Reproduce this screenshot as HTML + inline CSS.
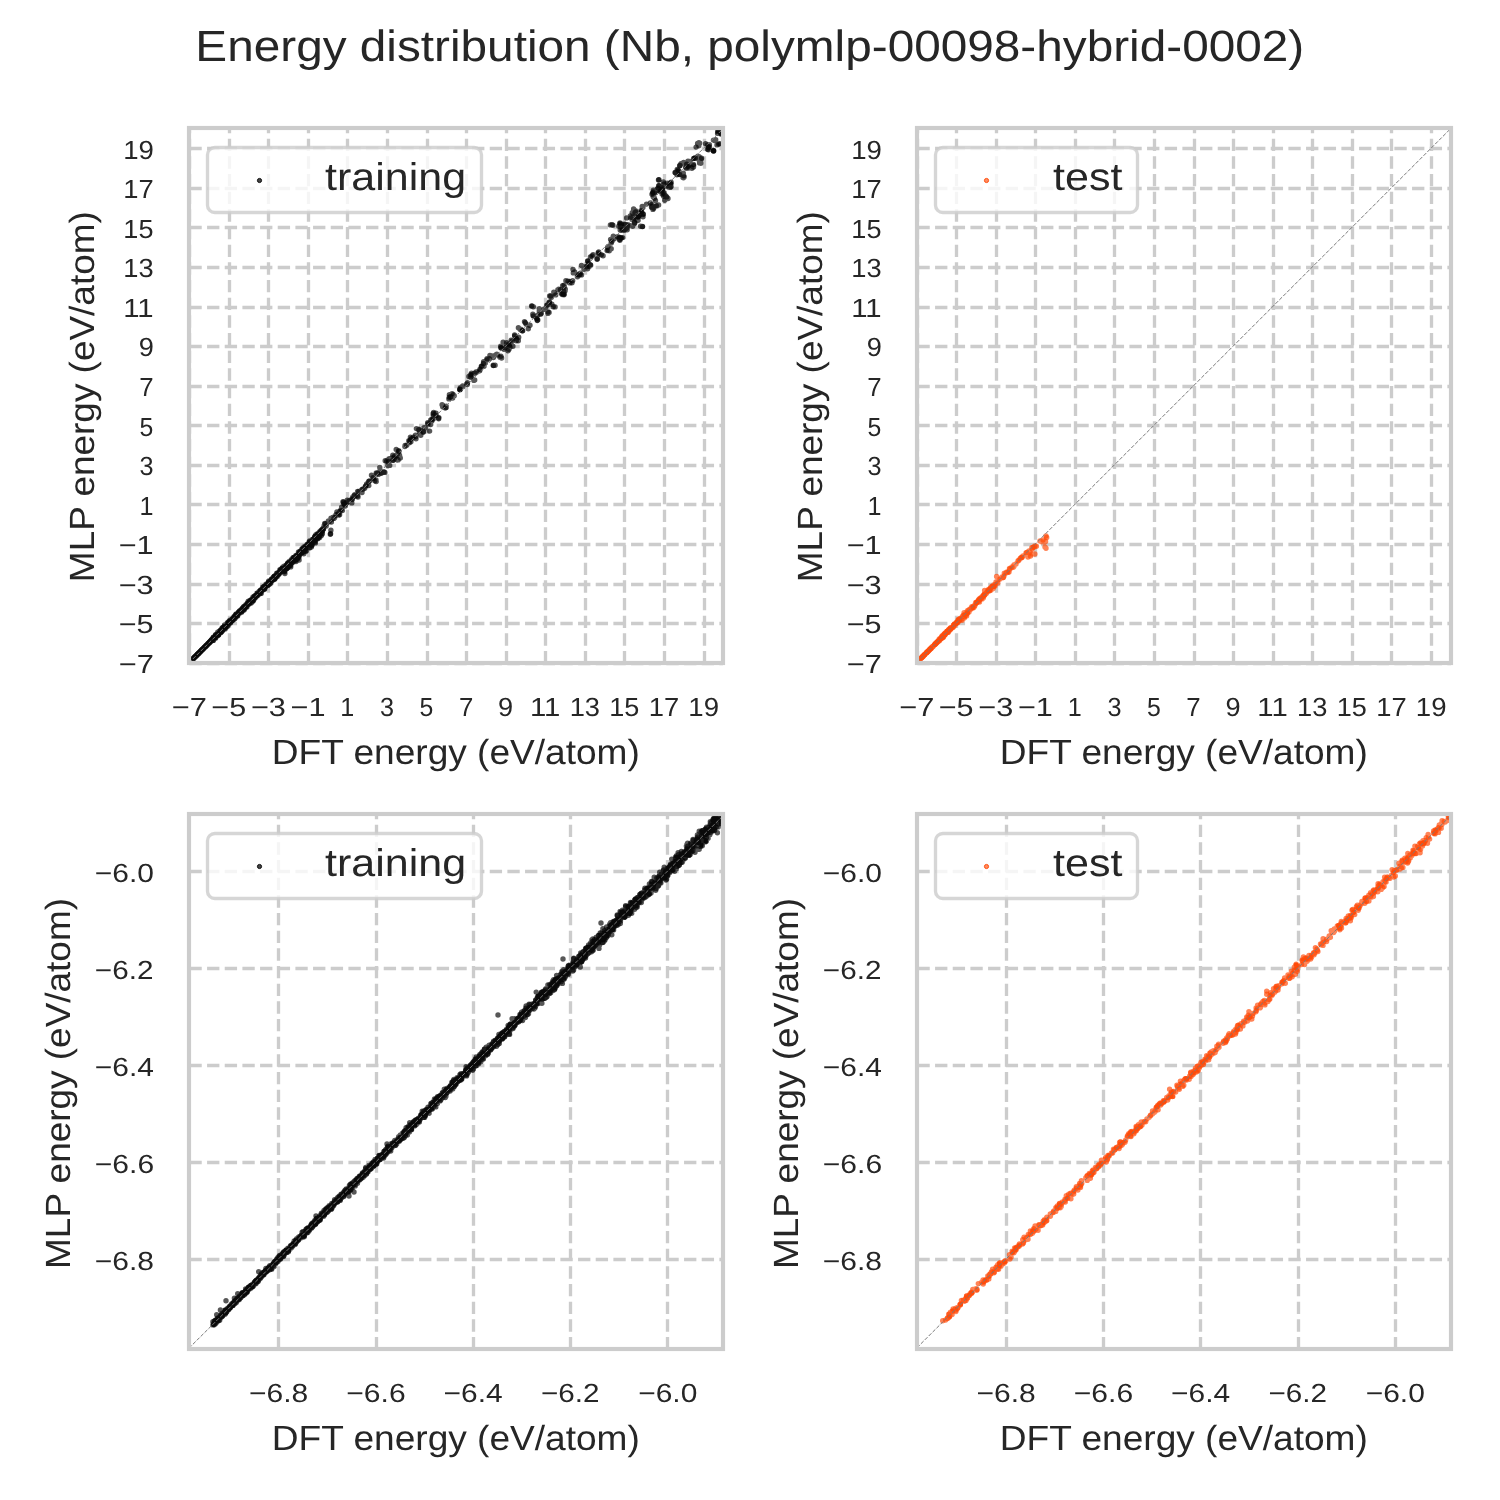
<!DOCTYPE html><html><head><meta charset="utf-8"><title>Energy distribution</title><style>html,body{margin:0;padding:0;background:#fff;width:1500px;height:1500px;overflow:hidden}svg{display:block;will-change:transform}text{text-rendering:geometricPrecision}</style></head><body>
<svg width="1500" height="1500" viewBox="0 0 1500 1500">
<rect width="1500" height="1500" fill="#ffffff"/>
<g font-family="Liberation Sans, sans-serif" fill="#262626">
<text x="195.32" y="60.60" font-size="43.75" textLength="1108.89" lengthAdjust="spacingAndGlyphs">Energy distribution (Nb, polymlp-00098-hybrid-0002)</text>
</g>
<clipPath id="c1"><rect x="189" y="128" width="534" height="535"/></clipPath>
<g stroke="#cccccc" stroke-width="3.333" fill="none" stroke-dasharray="12.333 5.333">
<path d="M189.5 663.30V128.00"/>
<path d="M229.5 663.30V128.00"/>
<path d="M268.5 663.30V128.00"/>
<path d="M308.5 663.30V128.00"/>
<path d="M347.5 663.30V128.00"/>
<path d="M387.5 663.30V128.00"/>
<path d="M427.5 663.30V128.00"/>
<path d="M466.5 663.30V128.00"/>
<path d="M506.5 663.30V128.00"/>
<path d="M545.5 663.30V128.00"/>
<path d="M585.5 663.30V128.00"/>
<path d="M624.5 663.30V128.00"/>
<path d="M664.5 663.30V128.00"/>
<path d="M704.5 663.30V128.00"/>
<path d="M189.40 663.5H723.00"/>
<path d="M189.40 623.5H723.00"/>
<path d="M189.40 584.5H723.00"/>
<path d="M189.40 544.5H723.00"/>
<path d="M189.40 504.5H723.00"/>
<path d="M189.40 465.5H723.00"/>
<path d="M189.40 425.5H723.00"/>
<path d="M189.40 386.5H723.00"/>
<path d="M189.40 346.5H723.00"/>
<path d="M189.40 307.5H723.00"/>
<path d="M189.40 267.5H723.00"/>
<path d="M189.40 227.5H723.00"/>
<path d="M189.40 188.5H723.00"/>
<path d="M189.40 148.5H723.00"/>
</g>
<g clip-path="url(#c1)">
<path stroke="#000000" stroke-opacity="0.66" stroke-width="5.4" stroke-linecap="round" fill="none" d="M201.8 650.1h0M198.4 653.4h0M199.1 652.9h0M204.3 647.5h0M205.7 646.1h0M207.4 644.6h0M193.1 658.8h0M202.5 649.5h0M205.6 646.4h0M211.2 640.4h0M192.9 659.0h0M211.4 640.4h0M203.0 648.8h0M211.4 640.5h0M200.8 651.0h0M204.8 647.1h0M193.3 658.6h0M196.4 655.4h0M211.3 640.8h0M205.1 646.8h0M207.6 644.3h0M197.8 654.0h0M211.4 640.1h0M211.3 640.5h0M193.6 658.2h0M210.8 640.7h0M202.7 649.2h0M199.1 652.7h0M205.5 646.4h0M199.7 652.2h0M205.9 645.8h0M195.4 656.5h0M204.4 647.5h0M190.8 661.1h0M211.3 640.6h0M205.1 646.8h0M196.7 655.1h0M190.6 661.3h0M205.7 646.3h0M211.3 640.7h0M198.0 653.7h0M208.8 643.3h0M202.6 649.2h0M192.0 659.9h0M204.9 646.9h0M210.8 641.0h0M207.2 644.6h0M190.7 661.2h0M211.4 640.7h0M204.1 647.8h0M190.9 660.9h0M200.6 651.2h0M208.5 643.5h0M209.5 642.2h0M200.8 651.1h0M211.3 640.6h0M208.0 644.0h0M196.6 655.2h0M198.6 653.3h0M208.0 644.0h0M207.6 644.2h0M211.4 640.4h0M191.3 660.5h0M200.8 651.0h0M209.0 642.9h0M204.2 647.7h0M191.8 660.0h0M202.8 649.0h0M211.5 640.4h0M206.6 645.2h0M202.2 649.7h0M197.1 654.8h0M208.6 643.1h0M205.4 646.4h0M195.4 656.4h0M206.6 645.2h0M211.3 640.3h0M198.8 653.1h0M209.7 642.0h0M211.4 640.4h0M190.9 660.5h0M196.1 656.0h0M194.6 657.0h0M292.1 563.0h0M252.2 600.3h0M268.4 583.5h0M294.0 557.8h0M236.1 616.1h0M220.2 631.6h0M279.6 571.8h0M320.6 532.5h0M234.1 618.9h0M220.8 632.1h0M261.2 590.7h0M263.8 588.2h0M241.3 611.5h0M307.1 545.6h0M236.1 615.6h0M254.9 596.9h0M250.6 601.7h0M219.8 632.0h0M291.3 559.7h0M267.9 585.3h0M302.6 551.6h0M287.5 567.4h0M304.9 547.4h0M315.1 536.4h0M231.9 620.5h0M288.0 564.7h0M306.9 546.7h0M233.8 618.0h0M320.4 534.2h0M234.8 617.7h0M284.9 573.6h0M275.1 575.8h0M241.1 610.2h0M273.9 579.0h0M241.5 611.3h0M284.1 568.2h0M288.4 563.7h0M314.6 539.8h0M308.1 546.1h0M234.2 617.9h0M215.6 634.8h0M244.6 609.0h0M256.6 595.3h0M287.6 567.1h0M302.6 549.8h0M323.3 529.0h0M217.0 636.0h0M253.2 599.7h0M242.2 609.9h0M307.6 545.2h0M319.8 534.1h0M235.0 617.3h0M278.6 573.0h0M305.7 551.2h0M320.6 532.6h0M257.1 595.1h0M284.1 566.2h0M287.8 563.9h0M252.7 599.8h0M299.4 554.5h0M314.6 537.4h0M307.7 544.3h0M241.4 611.4h0M272.5 579.1h0M234.1 616.4h0M298.6 556.8h0M252.8 599.2h0M312.0 544.5h0M285.6 565.4h0M313.0 539.3h0M240.7 611.5h0M277.4 573.3h0M244.6 607.4h0M259.9 592.5h0M299.2 555.3h0M284.4 570.6h0M267.3 584.0h0M231.4 621.0h0M291.8 561.7h0M273.8 576.9h0M286.8 567.3h0M243.5 609.2h0M266.2 585.4h0M216.8 634.3h0M317.3 536.9h0M306.9 545.8h0M281.5 571.3h0M293.0 561.6h0M212.6 640.0h0M240.2 611.1h0M309.8 541.6h0M310.4 542.0h0M296.7 558.4h0M223.7 628.5h0M234.4 617.8h0M291.1 562.7h0M285.6 566.9h0M302.3 549.2h0M236.6 613.9h0M260.5 590.5h0M239.3 611.6h0M269.6 581.6h0M272.5 580.3h0M292.3 559.9h0M304.1 551.6h0M276.6 575.9h0M254.6 595.9h0M320.2 532.4h0M276.3 574.9h0M305.0 547.7h0M320.6 533.5h0M320.8 532.0h0M309.0 542.3h0M295.2 557.7h0M225.2 627.6h0M288.0 565.1h0M216.6 635.6h0M311.1 543.7h0M228.2 623.3h0M260.4 592.8h0M299.0 556.8h0M277.9 574.0h0M283.6 566.8h0M271.5 580.2h0M239.4 612.8h0M243.8 606.7h0M251.2 600.3h0M295.9 557.7h0M263.3 588.4h0M267.8 584.7h0M244.1 609.9h0M315.2 540.6h0M306.0 548.8h0M282.7 570.7h0M239.6 612.1h0M222.6 630.3h0M215.2 636.0h0M233.5 619.0h0M213.5 637.2h0M322.2 531.4h0M280.5 570.0h0M268.8 583.1h0M321.6 529.9h0M294.1 559.3h0M265.1 587.6h0M219.0 632.7h0M247.2 604.7h0M248.3 602.9h0M236.2 614.5h0M235.8 616.0h0M275.3 577.3h0M230.3 621.0h0M216.5 635.2h0M236.2 615.9h0M289.0 563.5h0M250.4 602.7h0M305.7 546.5h0M255.0 595.7h0M222.5 629.1h0M294.8 560.1h0M299.4 552.3h0M267.9 583.4h0M315.7 536.0h0M317.3 537.5h0M250.7 601.4h0M273.8 578.5h0M286.9 568.0h0M240.5 610.6h0M286.4 567.6h0M310.3 544.2h0M264.4 588.6h0M212.1 639.2h0M283.0 566.9h0M249.3 602.7h0M220.6 631.8h0M290.6 565.6h0M289.4 564.1h0M286.3 569.1h0M321.0 531.6h0M231.6 620.9h0M235.2 616.1h0M268.7 582.7h0M318.5 535.2h0M286.1 566.9h0M298.3 557.4h0M249.2 601.9h0M225.8 627.1h0M274.4 577.7h0M215.1 636.3h0M243.0 607.7h0M248.5 603.3h0M228.8 623.1h0M214.8 636.8h0M287.8 563.9h0M213.9 638.4h0M213.4 640.4h0M303.1 551.2h0M284.8 568.0h0M270.9 581.2h0M224.0 626.8h0M233.4 618.6h0M268.8 580.9h0M264.1 586.4h0M279.3 572.5h0M317.7 534.5h0M242.4 609.3h0M318.6 535.1h0M292.2 562.8h0M272.0 578.9h0M255.1 596.0h0M223.0 628.2h0M222.7 629.6h0M225.1 628.9h0M231.6 619.8h0M294.4 561.1h0M229.5 621.6h0M281.5 570.7h0M300.6 551.0h0M276.2 576.6h0M224.3 626.4h0M215.5 638.3h0M282.2 568.3h0M292.4 559.4h0M299.6 553.3h0M319.7 537.6h0M289.6 562.3h0M232.4 619.1h0M275.0 575.9h0M219.5 632.9h0M218.6 633.3h0M211.7 639.4h0M291.3 563.1h0M282.0 570.0h0M257.5 594.5h0M235.1 616.9h0M295.8 559.1h0M246.7 604.7h0M239.1 612.2h0M220.7 630.5h0M305.1 546.9h0M244.2 606.9h0M315.5 538.5h0M294.2 557.4h0M285.7 567.7h0M237.5 615.6h0M248.5 602.7h0M260.9 592.0h0M302.3 552.8h0M236.8 614.5h0M317.8 534.6h0M296.2 556.2h0M250.8 600.4h0M239.5 611.5h0M303.2 548.5h0M277.8 574.5h0M217.5 634.2h0M283.5 568.9h0M286.6 567.0h0M316.5 538.3h0M246.2 606.4h0M279.0 573.8h0M289.0 561.8h0M251.9 601.8h0M264.0 587.8h0M274.8 578.9h0M215.1 638.0h0M217.2 634.4h0M303.3 549.7h0M287.6 563.7h0M309.8 547.6h0M218.5 635.1h0M315.0 538.3h0M310.6 543.3h0M234.0 619.2h0M294.1 559.0h0M218.9 631.5h0M217.1 634.7h0M232.1 619.3h0M295.7 560.2h0M224.0 627.9h0M217.7 632.1h0M220.8 630.7h0M294.4 560.7h0M282.5 570.1h0M266.3 585.6h0M263.4 588.9h0M278.3 573.7h0M237.9 613.8h0M309.9 545.7h0M288.9 565.1h0M260.6 592.0h0M261.9 589.7h0M279.9 569.6h0M334.6 517.8h0M338.7 513.3h0M339.6 514.8h0M343.5 502.2h0M344.0 503.6h0M352.2 499.6h0M357.3 496.0h0M357.6 495.8h0M362.7 489.3h0M366.7 484.0h0M366.6 484.2h0M369.3 481.3h0M373.3 478.7h0M371.5 475.3h0M376.2 473.0h0M380.0 470.7h0M379.8 467.4h0M380.3 470.5h0M380.6 472.9h0M383.9 472.2h0M388.7 461.6h0M394.6 458.6h0M398.9 451.4h0M397.3 460.0h0M397.3 459.3h0M398.1 459.9h0M406.7 445.3h0M410.4 437.1h0M415.5 435.2h0M415.7 436.7h0M415.9 435.4h0M418.8 429.8h0M423.2 432.2h0M425.3 428.0h0M424.0 427.7h0M432.0 419.4h0M433.3 416.0h0M436.0 413.3h0M438.5 418.1h0M445.3 408.0h0M448.9 398.9h0M449.4 394.7h0M330.9 530.2h0M326.2 526.1h0M333.9 518.4h0M340.0 511.3h0M344.8 504.6h0M365.3 486.7h0M364.7 488.2h0M384.9 472.4h0M378.4 474.4h0M388.0 465.3h0M387.9 465.5h0M389.7 465.4h0M392.8 455.2h0M409.3 442.7h0M409.7 440.9h0M427.7 422.8h0M452.1 393.8h0M460.0 389.3h0M466.7 384.0h0M467.3 384.5h0M470.7 377.3h0M471.5 373.1h0M476.0 372.0h0M476.9 372.0h0M481.7 366.2h0M500.9 356.3h0M501.3 348.0h0M508.4 344.1h0M508.0 350.7h0M512.9 346.2h0M516.3 340.8h0M516.2 339.9h0M516.3 338.1h0M522.3 330.8h0M525.3 322.7h0M528.3 328.8h0M536.0 317.3h0M537.4 320.5h0M537.6 315.3h0M533.3 316.0h0M537.8 320.0h0M544.0 309.3h0M544.6 309.2h0M546.7 305.3h0M545.7 309.1h0M549.2 302.4h0M549.5 302.0h0M548.0 312.0h0M555.7 294.9h0M564.0 294.7h0M562.2 294.5h0M564.0 286.9h0M562.6 285.8h0M569.9 282.9h0M573.0 269.4h0M578.7 274.7h0M580.3 273.3h0M586.7 266.7h0M588.0 261.3h0M592.0 256.0h0M598.7 252.0h0M601.3 254.7h0M601.0 254.8h0M609.3 250.7h0M611.2 248.7h0M608.1 250.1h0M610.6 239.5h0M613.3 238.7h0M614.3 238.7h0M613.3 236.3h0M612.9 225.2h0M610.4 224.9h0M619.1 237.7h0M619.9 240.3h0M622.7 237.6h0M620.4 224.7h0M618.8 226.2h0M622.5 229.0h0M624.3 229.9h0M626.0 227.3h0M626.5 228.3h0M627.7 225.8h0M625.4 224.4h0M642.5 226.4h0M640.6 226.2h0M630.3 216.0h0M631.8 217.3h0M626.6 217.9h0M639.0 215.1h0M638.3 217.1h0M641.2 212.0h0M643.3 214.3h0M634.7 222.9h0M632.9 219.5h0M633.4 220.0h0M651.8 204.8h0M652.2 208.0h0M651.9 206.3h0M652.9 209.4h0M658.6 204.9h0M656.8 205.9h0M655.5 200.4h0M652.6 193.0h0M658.9 185.6h0M660.3 186.1h0M660.7 190.9h0M661.4 191.1h0M662.6 188.9h0M662.1 194.1h0M669.3 185.7h0M666.3 186.0h0M671.1 186.6h0M664.1 183.9h0M670.9 184.0h0M658.9 179.6h0M659.0 179.8h0M675.4 172.7h0M677.2 169.5h0M678.7 170.6h0M680.0 165.4h0M679.7 174.4h0M683.0 177.4h0M684.1 177.0h0M683.5 177.8h0M688.4 166.6h0M693.6 165.7h0M693.5 167.1h0M694.3 158.2h0M697.9 156.2h0M698.8 159.6h0M699.1 156.8h0M699.7 159.7h0M701.1 158.9h0M700.5 161.4h0M699.6 162.9h0M700.8 163.2h0M696.1 147.1h0M707.5 144.9h0M709.4 144.8h0M708.5 149.7h0M713.5 151.0h0M714.4 140.6h0M713.5 140.1h0M715.7 139.8h0M718.7 144.1h0M718.0 130.8h0M720.1 131.4h0M720.0 130.8h0M721.0 133.0h0"/>
<path stroke="#000000" stroke-opacity="0.66" stroke-width="5.4" stroke-linecap="round" fill="none" d="M211.4 640.5h0M203.7 648.3h0M199.2 652.7h0M200.5 651.4h0M203.8 648.2h0M190.8 661.0h0M211.4 640.5h0M211.3 640.6h0M195.2 656.6h0M201.2 650.7h0M197.5 654.3h0M197.0 654.9h0M204.4 647.6h0M207.9 643.9h0M198.9 652.9h0M200.3 651.6h0M203.2 648.6h0M211.3 640.6h0M211.3 640.5h0M194.7 657.1h0M207.2 644.8h0M203.4 648.4h0M210.6 641.3h0M201.0 650.8h0M211.3 640.8h0M199.3 652.6h0M211.4 640.4h0M206.2 645.7h0M206.4 645.4h0M205.3 646.7h0M192.2 659.7h0M209.4 642.7h0M210.8 641.3h0M202.1 649.7h0M203.5 648.6h0M198.0 653.8h0M206.1 645.7h0M191.8 660.0h0M198.6 653.1h0M191.9 660.0h0M205.8 646.0h0M205.9 645.9h0M196.0 655.9h0M210.3 641.9h0M207.7 644.2h0M201.4 650.3h0M197.9 653.9h0M201.7 650.2h0M207.7 644.2h0M209.5 642.3h0M208.4 643.2h0M200.5 651.4h0M192.2 659.6h0M211.3 640.5h0M194.1 657.9h0M206.5 645.6h0M198.3 653.7h0M211.4 640.5h0M200.3 651.5h0M198.1 653.7h0M202.3 649.5h0M193.8 658.1h0M204.4 647.4h0M204.4 647.2h0M211.3 640.6h0M191.6 660.2h0M202.2 649.8h0M211.4 640.7h0M195.7 656.1h0M197.6 654.3h0M204.1 647.7h0M211.4 640.3h0M201.4 650.3h0M193.0 658.9h0M202.4 649.2h0M198.9 653.0h0M196.1 655.7h0M211.3 640.8h0M197.7 654.1h0M207.2 644.7h0M203.1 648.7h0M190.7 661.1h0M195.8 656.1h0M212.7 640.6h0M282.8 569.3h0M289.0 565.8h0M260.4 592.3h0M281.6 571.1h0M223.3 628.3h0M320.9 533.5h0M231.4 620.5h0M291.0 562.4h0M274.1 579.4h0M293.0 557.8h0M269.8 582.8h0M274.1 578.1h0M274.0 577.5h0M251.2 603.1h0M227.6 624.1h0M303.0 548.7h0M256.9 594.6h0M235.6 615.3h0M272.3 579.1h0M306.9 544.6h0M215.4 637.5h0M316.0 537.5h0M297.7 558.7h0M274.2 576.5h0M236.3 615.5h0M311.9 541.9h0M270.8 581.4h0M253.6 597.8h0M277.9 573.5h0M221.2 632.1h0M274.9 576.7h0M268.2 583.5h0M243.6 608.4h0M241.6 612.2h0M270.8 581.0h0M306.9 545.1h0M290.1 563.9h0M294.6 557.7h0M253.6 597.8h0M316.6 536.9h0M283.2 569.6h0M282.8 569.8h0M270.1 581.3h0M251.1 601.4h0M243.6 609.3h0M278.0 573.8h0M310.0 547.8h0M288.8 565.4h0M273.7 579.6h0M313.9 540.9h0M229.5 621.3h0M296.4 557.1h0M309.7 542.5h0M218.7 634.0h0M291.6 560.9h0M220.9 631.6h0M227.1 626.8h0M260.6 590.1h0M246.1 605.6h0M248.5 604.6h0M321.9 531.0h0M262.5 588.9h0M266.9 584.7h0M260.6 591.9h0M243.6 607.7h0M266.7 585.4h0M260.9 590.5h0M286.6 566.2h0M277.3 576.5h0M305.4 546.9h0M214.8 637.1h0M263.3 587.9h0M304.4 548.0h0M221.7 630.5h0M320.4 532.3h0M271.3 580.2h0M284.3 567.6h0M217.7 635.1h0M303.5 548.6h0M228.1 623.3h0M226.1 625.5h0M315.9 534.6h0M289.1 563.1h0M218.9 633.3h0M296.0 561.5h0M223.1 629.8h0M291.7 560.5h0M264.3 587.4h0M261.3 591.1h0M300.6 552.1h0M278.1 572.6h0M286.9 568.4h0M307.7 547.6h0M255.3 596.3h0M271.1 580.4h0M276.7 573.2h0M263.4 587.5h0M283.1 568.2h0M233.4 618.3h0M227.9 625.6h0M303.1 549.7h0M303.5 549.4h0M298.7 555.7h0M230.8 621.9h0M316.1 536.8h0M280.2 571.2h0M275.9 576.6h0M238.5 612.7h0M274.1 577.6h0M255.5 596.9h0M303.8 553.7h0M290.3 565.7h0M284.6 568.6h0M236.0 615.6h0M281.9 570.7h0M297.6 554.6h0M230.3 621.1h0M250.9 600.0h0M299.2 554.9h0M212.7 639.6h0M310.1 543.3h0M301.4 552.1h0M284.6 569.0h0M248.3 603.7h0M234.5 617.2h0M279.2 572.7h0M322.6 530.4h0M258.0 594.0h0M257.9 593.5h0M213.1 638.7h0M227.1 624.9h0M224.2 628.7h0M229.4 622.7h0M245.4 606.0h0M230.0 622.3h0M250.8 600.5h0M250.9 601.4h0M306.6 546.4h0M284.6 571.7h0M320.7 534.3h0M246.2 605.2h0M256.1 596.7h0M283.1 570.2h0M216.9 634.8h0M231.8 620.2h0M311.4 547.1h0M222.4 627.7h0M268.4 582.7h0M235.8 616.4h0M274.8 577.8h0M274.6 577.2h0M245.0 607.3h0M265.8 586.1h0M245.2 606.9h0M242.6 608.4h0M213.3 637.4h0M308.3 544.4h0M217.2 634.8h0M322.4 530.2h0M266.0 584.3h0M254.4 598.3h0M280.5 571.8h0M268.1 583.8h0M312.8 540.9h0M225.4 626.5h0M260.1 591.8h0M270.1 582.3h0M264.2 588.9h0M239.2 612.7h0M290.9 563.4h0M233.4 617.9h0M297.6 558.1h0M243.9 608.9h0M217.4 635.8h0M232.7 619.4h0M239.9 610.7h0M216.1 636.4h0M224.0 628.6h0M287.4 563.6h0M307.9 545.3h0M302.6 550.6h0M276.5 575.7h0M246.6 604.6h0M275.2 578.0h0M306.2 550.9h0M245.8 605.1h0M281.7 568.6h0M288.0 566.9h0M286.7 566.2h0M278.1 574.8h0M256.9 595.4h0M247.4 604.5h0M255.1 597.5h0M272.9 578.6h0M320.8 535.2h0M258.9 593.9h0M282.0 570.6h0M299.6 553.1h0M224.6 624.9h0M270.9 583.1h0M245.4 606.4h0M321.0 532.5h0M243.2 608.8h0M236.8 615.2h0M252.8 601.3h0M298.9 553.4h0M245.8 607.0h0M247.5 604.4h0M295.3 559.4h0M255.5 596.6h0M259.5 593.0h0M317.1 534.1h0M289.4 562.2h0M302.7 552.3h0M257.6 595.4h0M315.4 542.9h0M280.4 570.6h0M268.1 585.1h0M284.2 570.4h0M272.5 579.2h0M319.1 532.7h0M215.0 636.4h0M276.5 575.7h0M317.5 533.7h0M277.1 575.4h0M295.5 556.6h0M247.5 603.5h0M303.4 551.7h0M281.1 570.3h0M241.0 611.1h0M267.0 584.5h0M261.5 590.8h0M276.9 575.2h0M229.6 623.0h0M240.7 610.8h0M268.1 582.7h0M265.0 585.8h0M311.0 543.7h0M249.2 601.8h0M318.9 533.5h0M274.7 578.6h0M261.2 593.4h0M232.6 620.2h0M257.0 593.2h0M255.0 596.9h0M223.5 627.3h0M250.6 600.3h0M300.4 551.7h0M308.3 544.5h0M222.4 630.1h0M235.7 616.5h0M318.2 538.1h0M284.0 569.7h0M273.9 578.5h0M240.1 612.0h0M285.3 566.6h0M229.2 621.6h0M274.3 576.7h0M298.0 554.7h0M261.6 589.5h0M290.7 566.9h0M239.9 613.1h0M234.4 616.9h0M285.6 568.0h0M244.1 607.5h0M285.2 566.8h0M315.6 537.2h0M275.8 577.0h0M252.0 599.5h0M230.6 620.1h0M229.9 620.3h0M306.7 548.5h0M270.3 582.1h0M226.3 626.1h0M268.4 583.4h0M319.8 535.4h0M220.3 630.4h0M314.6 537.6h0M271.6 579.0h0M316.4 536.7h0M280.5 570.0h0M227.4 622.7h0M241.1 610.9h0M289.9 561.9h0M290.5 562.0h0M297.9 554.5h0M242.4 608.7h0M245.8 604.6h0M227.0 625.1h0M319.6 536.3h0M214.4 637.7h0M312.4 541.5h0M295.3 559.0h0M298.7 555.2h0M287.9 564.6h0M235.6 616.6h0M321.4 535.4h0M317.9 538.7h0M295.4 558.5h0M299.6 553.8h0M262.9 589.9h0M287.9 565.2h0M220.4 631.8h0M306.1 546.0h0M265.3 586.7h0M274.4 576.2h0M317.3 536.9h0M287.9 565.2h0M232.1 618.9h0M325.3 524.0h0M325.9 523.6h0M329.3 521.3h0M329.0 521.7h0M328.4 521.0h0M333.3 517.3h0M331.0 518.2h0M336.9 511.9h0M342.4 510.5h0M344.0 504.0h0M346.8 502.4h0M352.0 498.7h0M354.7 494.7h0M354.9 496.1h0M357.6 491.5h0M368.8 485.6h0M368.5 481.9h0M368.9 481.2h0M374.8 480.7h0M384.0 472.0h0M386.7 461.3h0M387.1 460.7h0M389.3 458.7h0M391.8 458.0h0M393.3 460.0h0M394.1 459.0h0M398.7 450.7h0M400.0 457.3h0M399.5 455.1h0M400.3 458.1h0M405.1 445.4h0M404.9 446.6h0M410.7 440.0h0M410.9 441.7h0M413.3 437.3h0M422.7 430.7h0M423.6 431.6h0M429.6 431.1h0M433.2 418.9h0M433.1 413.8h0M438.7 418.7h0M438.9 417.6h0M446.2 406.2h0M446.2 407.4h0M330.3 534.3h0M326.7 523.3h0M332.0 519.3h0M338.8 513.1h0M339.8 511.5h0M345.3 506.0h0M347.2 500.2h0M381.3 473.3h0M394.7 458.0h0M428.0 424.0h0M450.7 396.7h0M459.8 389.4h0M468.9 376.5h0M472.0 374.7h0M474.2 373.4h0M471.7 376.0h0M475.1 373.3h0M481.3 366.4h0M479.7 370.8h0M482.7 366.7h0M484.0 366.3h0M485.3 362.7h0M483.6 361.7h0M489.3 358.7h0M486.9 360.0h0M493.4 365.6h0M500.0 357.3h0M501.6 358.0h0M500.7 346.2h0M505.1 347.5h0M503.1 342.3h0M509.3 345.3h0M511.1 340.2h0M514.6 334.9h0M516.0 338.7h0M518.3 340.8h0M522.7 330.7h0M537.3 320.0h0M540.6 314.2h0M533.3 306.7h0M532.2 306.1h0M547.6 305.0h0M549.3 302.7h0M553.3 306.7h0M550.7 296.0h0M558.7 289.3h0M557.9 289.8h0M561.3 293.3h0M564.1 294.0h0M563.6 291.3h0M568.0 281.3h0M572.7 280.6h0M574.7 272.0h0M573.3 272.9h0M577.4 274.6h0M580.0 274.7h0M584.0 269.3h0M584.6 266.9h0M581.5 265.4h0M586.3 266.3h0M587.6 268.7h0M588.6 263.4h0M590.3 264.8h0M590.4 256.9h0M597.1 259.3h0M598.1 253.0h0M607.1 250.6h0M612.0 241.3h0M620.8 237.7h0M619.4 238.3h0M619.6 239.6h0M619.9 223.8h0M621.6 224.2h0M620.8 226.4h0M620.2 230.1h0M642.5 226.6h0M634.9 213.0h0M635.6 212.0h0M635.7 219.1h0M639.3 215.4h0M640.9 210.7h0M642.9 213.9h0M638.1 220.3h0M637.8 220.1h0M637.7 220.5h0M630.6 217.9h0M650.3 203.0h0M652.0 194.3h0M654.6 192.6h0M653.4 190.3h0M657.2 189.1h0M658.2 190.2h0M658.9 185.7h0M662.2 187.8h0M664.1 192.6h0M663.7 196.2h0M666.7 196.9h0M670.5 183.9h0M670.2 187.4h0M668.8 186.9h0M663.4 182.0h0M670.0 183.3h0M658.5 180.0h0M678.0 170.1h0M679.3 174.6h0M683.2 175.3h0M683.3 173.2h0M683.7 175.8h0M686.7 164.2h0M685.6 167.1h0M691.9 168.3h0M691.5 167.7h0M688.8 168.1h0M693.7 158.4h0M701.6 158.3h0M705.6 143.7h0M708.7 147.3h0M707.5 149.3h0M713.6 150.9h0M720.0 143.7h0M717.6 133.4h0M720.5 133.7h0"/>
<path stroke="#000000" stroke-opacity="0.66" stroke-width="5.4" stroke-linecap="round" fill="none" d="M201.2 650.6h0M196.0 655.8h0M194.4 657.4h0M209.9 641.8h0M206.5 645.3h0M191.8 660.0h0M202.3 649.6h0M192.1 659.8h0M203.5 648.4h0M206.4 645.8h0M209.8 642.2h0M191.8 660.1h0M207.4 644.5h0M195.8 655.9h0M201.2 650.8h0M208.4 643.4h0M192.2 659.7h0M198.2 653.7h0M197.4 654.4h0M209.5 642.2h0M198.3 653.7h0M197.5 654.3h0M198.9 652.9h0M207.6 644.1h0M198.8 653.2h0M211.3 640.6h0M206.1 645.7h0M191.6 660.2h0M208.9 643.0h0M198.8 653.0h0M205.2 646.8h0M211.4 640.3h0M211.5 640.3h0M197.2 654.7h0M199.8 652.1h0M197.2 654.6h0M200.7 651.3h0M203.8 647.9h0M193.1 658.8h0M201.3 650.5h0M204.8 647.1h0M206.4 645.4h0M192.6 659.2h0M211.3 640.7h0M194.2 657.6h0M211.3 640.5h0M201.6 650.0h0M190.5 661.4h0M207.9 643.8h0M199.5 652.1h0M211.0 640.8h0M211.3 640.6h0M193.8 658.0h0M209.4 642.3h0M191.1 660.8h0M194.1 657.8h0M210.3 641.3h0M211.3 640.7h0M192.2 659.6h0M207.8 644.1h0M193.1 658.7h0M191.7 660.2h0M197.5 654.5h0M197.0 654.9h0M208.5 643.2h0M192.8 659.0h0M211.3 640.3h0M197.4 654.5h0M197.7 654.2h0M211.4 640.4h0M207.0 644.8h0M196.7 655.1h0M206.4 645.4h0M210.1 641.8h0M205.5 646.4h0M195.0 656.8h0M198.8 653.0h0M190.7 661.1h0M202.7 649.2h0M191.9 660.0h0M201.7 650.1h0M205.7 646.1h0M195.0 656.9h0M211.4 640.4h0M198.9 652.9h0M202.7 649.3h0M200.2 651.7h0M203.7 648.1h0M207.8 644.1h0M190.8 661.0h0M269.5 583.6h0M266.0 586.1h0M219.4 633.1h0M286.4 567.8h0M322.4 533.8h0M313.6 539.4h0M254.6 596.4h0M284.8 570.3h0M241.3 610.0h0M300.7 552.1h0M242.5 610.7h0M248.8 602.5h0M264.3 587.1h0M233.4 618.1h0M288.0 565.2h0M244.0 607.0h0M299.1 560.0h0M288.0 564.2h0M314.9 542.1h0M321.0 530.8h0M242.7 610.4h0M215.2 637.3h0M292.3 562.2h0M289.1 563.0h0M293.6 559.1h0M280.9 571.2h0M274.6 578.4h0M291.6 561.1h0M293.5 560.3h0M320.2 531.4h0M312.5 539.4h0M316.1 537.1h0M274.5 577.8h0M320.3 534.2h0M315.0 539.7h0M267.9 584.9h0M252.4 599.3h0M230.4 622.9h0M286.6 565.2h0M314.4 538.8h0M220.4 631.1h0M216.2 634.6h0M313.8 540.0h0M212.6 638.8h0M295.8 557.1h0M286.5 568.1h0M260.6 591.8h0M222.0 631.2h0M273.4 578.7h0M317.6 534.3h0M320.2 531.1h0M286.6 566.0h0M273.9 576.6h0M275.1 576.5h0M249.4 603.3h0M259.2 593.5h0M281.1 570.8h0M317.5 537.7h0M316.9 535.7h0M317.0 535.9h0M220.5 631.0h0M228.6 624.2h0M272.1 579.5h0M292.3 560.8h0M317.0 538.6h0M298.8 556.0h0M310.7 542.6h0M254.6 597.0h0M313.0 540.1h0M212.5 639.2h0M300.7 552.6h0M256.9 595.8h0M318.9 536.3h0M253.7 600.3h0M307.9 544.8h0M264.6 589.3h0M272.9 579.7h0M285.9 567.0h0M232.9 619.6h0M314.9 536.4h0M266.2 585.4h0M259.3 591.3h0M270.4 581.3h0M315.6 537.9h0M286.0 568.7h0M284.4 571.0h0M299.1 552.4h0M293.1 559.7h0M222.7 628.9h0M236.6 615.5h0M317.3 537.7h0M259.8 593.7h0M253.9 597.4h0M273.5 578.6h0M258.6 592.6h0M267.6 584.8h0M241.9 609.4h0M303.0 550.7h0M224.5 627.1h0M282.5 569.6h0M290.9 563.1h0M301.3 550.8h0M274.4 577.8h0M229.6 622.7h0M310.8 543.5h0M287.6 566.9h0M281.7 570.3h0M224.6 627.3h0M295.4 557.9h0M217.3 634.5h0M232.3 620.6h0M261.7 590.6h0M296.4 557.4h0M244.7 607.6h0M296.2 558.3h0M255.0 598.1h0M314.8 538.0h0M315.4 537.5h0M295.3 560.1h0M274.2 577.5h0M284.2 569.4h0M258.9 592.8h0M234.8 617.2h0M320.5 532.5h0M293.3 560.9h0M273.3 579.0h0M289.3 563.8h0M277.9 574.4h0M319.6 533.5h0M296.1 557.2h0M318.7 536.8h0M228.1 623.1h0M220.5 630.7h0M237.6 616.1h0M253.5 596.7h0M271.0 580.8h0M216.6 634.7h0M227.7 625.3h0M216.0 635.8h0M244.8 607.9h0M228.7 621.8h0M310.6 541.2h0M316.4 537.9h0M320.5 531.1h0M230.7 621.9h0M236.5 614.6h0M252.9 597.1h0M318.9 534.0h0M230.1 622.4h0M270.2 582.7h0M257.6 593.1h0M282.2 568.4h0M277.6 574.6h0M280.5 570.6h0M269.2 582.5h0M303.5 550.5h0M297.9 556.1h0M304.3 551.1h0M316.1 536.5h0M317.2 538.2h0M311.8 540.7h0M243.9 606.7h0M317.6 537.3h0M286.8 565.3h0M274.0 577.1h0M263.7 589.0h0M220.9 632.5h0M303.5 550.8h0M234.9 618.5h0M247.0 604.7h0M218.3 634.0h0M221.4 631.3h0M309.6 541.0h0M293.4 558.7h0M283.6 569.6h0M225.4 627.6h0M234.6 618.1h0M315.4 538.0h0M275.1 577.5h0M214.2 638.3h0M276.6 575.7h0M288.6 564.4h0M273.7 577.9h0M293.8 557.8h0M287.2 565.4h0M302.1 548.8h0M222.4 629.5h0M234.2 617.3h0M287.9 563.1h0M221.8 629.9h0M218.9 633.3h0M300.6 552.8h0M278.5 574.4h0M316.2 536.1h0M295.3 557.9h0M216.9 634.5h0M269.6 584.0h0M248.3 601.3h0M297.1 557.3h0M243.4 608.3h0M235.9 614.3h0M221.7 628.8h0M321.9 531.0h0M236.2 616.9h0M259.6 591.8h0M255.9 595.2h0M230.4 622.6h0M268.6 582.3h0M280.1 573.1h0M275.5 577.2h0M314.5 539.9h0M250.9 600.1h0M298.5 552.0h0M295.9 555.4h0M242.0 609.0h0M246.7 607.1h0M276.4 576.0h0M321.5 531.0h0M323.5 528.7h0M245.4 607.1h0M302.1 551.0h0M318.2 536.3h0M255.0 597.3h0M249.4 602.4h0M286.2 566.5h0M258.8 592.7h0M275.4 576.7h0M222.6 628.9h0M241.6 610.4h0M228.5 624.0h0M322.7 528.6h0M310.6 542.0h0M320.1 531.2h0M223.3 628.2h0M219.1 633.0h0M223.6 627.3h0M215.1 637.5h0M321.0 533.5h0M238.9 611.9h0M252.5 600.4h0M238.4 612.3h0M239.1 611.7h0M315.2 537.3h0M271.5 580.8h0M215.4 635.5h0M228.4 622.3h0M285.0 569.6h0M238.6 613.0h0M315.1 538.9h0M305.5 548.4h0M261.6 589.6h0M323.6 527.4h0M311.1 542.0h0M288.0 567.6h0M241.4 609.5h0M303.9 547.0h0M265.9 585.7h0M221.0 630.3h0M252.0 600.3h0M249.5 601.6h0M262.9 587.9h0M218.6 634.8h0M227.7 624.7h0M290.5 562.9h0M262.7 587.2h0M302.3 552.2h0M321.3 533.0h0M320.4 533.0h0M311.9 545.5h0M245.8 606.4h0M279.2 572.5h0M298.4 557.0h0M245.6 606.0h0M269.0 583.3h0M241.4 611.0h0M243.1 609.0h0M297.9 558.9h0M298.0 555.5h0M315.2 538.1h0M290.4 563.9h0M289.1 565.8h0M254.0 597.2h0M247.7 602.5h0M298.3 555.9h0M235.6 615.9h0M212.9 639.1h0M221.1 631.0h0M243.5 609.4h0M275.6 576.3h0M246.9 606.9h0M223.6 627.5h0M300.6 553.3h0M255.7 596.2h0M273.9 578.7h0M234.0 617.7h0M237.9 614.2h0M216.9 634.8h0M324.2 525.4h0M336.0 514.7h0M336.6 515.2h0M338.7 514.9h0M341.3 509.3h0M341.6 507.3h0M343.0 501.6h0M346.7 502.7h0M353.0 496.8h0M354.3 495.8h0M358.0 497.0h0M358.7 492.0h0M359.0 491.4h0M361.9 489.6h0M362.9 489.2h0M373.0 477.8h0M376.0 480.0h0M376.2 481.6h0M377.3 473.3h0M376.8 473.7h0M385.2 460.7h0M392.7 460.4h0M396.0 456.0h0M397.4 453.9h0M396.2 449.5h0M411.3 438.6h0M416.0 438.7h0M418.7 429.3h0M416.4 428.6h0M430.7 420.0h0M431.8 421.0h0M436.0 415.4h0M433.6 412.4h0M442.7 406.7h0M442.5 405.0h0M442.1 404.7h0M449.3 397.3h0M330.6 533.7h0M324.7 523.4h0M331.4 522.0h0M344.9 504.3h0M349.3 500.7h0M351.8 502.9h0M361.3 490.7h0M361.2 490.8h0M362.0 492.5h0M365.7 486.0h0M394.6 456.3h0M408.8 440.6h0M420.0 433.3h0M419.5 432.7h0M420.8 435.2h0M430.7 424.5h0M451.5 397.5h0M452.7 398.0h0M453.3 394.7h0M454.2 395.7h0M460.0 389.7h0M462.7 386.7h0M462.7 386.0h0M460.4 387.8h0M467.5 382.7h0M470.7 374.7h0M474.7 380.0h0M473.9 380.4h0M480.0 369.3h0M483.4 363.4h0M487.0 358.7h0M492.0 356.0h0M489.9 355.5h0M493.4 357.5h0M493.3 365.3h0M495.1 365.2h0M496.0 354.7h0M496.8 354.1h0M497.5 355.1h0M500.9 347.7h0M504.0 349.3h0M508.5 349.1h0M506.7 342.7h0M510.0 347.2h0M509.0 349.3h0M508.6 345.6h0M506.7 345.6h0M512.0 341.3h0M514.7 336.0h0M515.1 336.7h0M518.7 337.3h0M520.0 329.3h0M520.7 329.7h0M518.4 327.7h0M520.9 329.1h0M526.1 324.1h0M524.5 321.6h0M529.3 325.3h0M530.0 325.2h0M533.2 315.4h0M532.8 314.2h0M536.7 318.4h0M541.3 313.3h0M539.3 310.9h0M539.3 308.6h0M531.6 306.0h0M547.9 313.4h0M549.1 312.4h0M555.1 306.9h0M551.9 304.2h0M549.6 295.9h0M551.2 297.5h0M554.7 293.3h0M553.8 292.1h0M560.5 289.7h0M561.2 290.4h0M563.1 294.2h0M565.3 289.3h0M565.1 290.8h0M564.0 285.3h0M569.7 281.4h0M565.9 280.8h0M572.0 282.7h0M577.5 276.7h0M581.5 274.9h0M587.6 260.9h0M590.7 265.3h0M589.5 266.2h0M593.1 254.8h0M597.3 258.7h0M597.2 258.2h0M599.2 254.0h0M603.1 255.8h0M608.0 246.7h0M607.6 247.4h0M611.2 243.1h0M612.0 224.7h0M618.7 236.9h0M617.6 236.7h0M621.3 238.1h0M620.0 223.0h0M624.0 224.1h0M622.0 230.2h0M624.5 230.0h0M627.2 229.7h0M627.7 224.7h0M629.5 225.5h0M627.7 227.4h0M632.7 226.2h0M632.9 213.4h0M632.2 212.6h0M635.5 210.8h0M633.6 208.9h0M636.4 216.9h0M638.5 216.6h0M641.6 211.7h0M642.5 207.3h0M642.2 206.4h0M642.9 207.4h0M643.0 216.7h0M634.6 222.1h0M634.2 223.8h0M646.5 204.1h0M652.0 206.5h0M653.7 208.2h0M651.5 207.1h0M656.3 205.6h0M654.3 197.9h0M654.4 198.3h0M653.7 196.9h0M653.2 196.7h0M653.4 196.7h0M653.2 192.0h0M654.6 193.1h0M658.0 188.1h0M659.3 191.1h0M662.4 189.1h0M663.2 192.9h0M665.9 196.1h0M664.7 200.2h0M665.3 195.5h0M668.0 198.5h0M667.2 183.3h0M671.1 182.2h0M675.1 172.5h0M677.7 171.7h0M679.7 165.7h0M681.0 163.8h0M676.9 174.7h0M684.9 163.1h0M683.6 162.5h0M686.7 165.7h0M686.4 164.7h0M688.9 165.3h0M686.2 168.3h0M690.1 161.4h0M687.5 162.1h0M688.0 161.3h0M693.5 164.4h0M695.3 157.9h0M699.7 143.2h0M697.6 143.5h0M698.9 142.8h0M698.8 145.8h0M699.0 144.4h0M709.2 146.7h0M709.2 147.0h0M708.6 147.6h0M713.6 150.5h0M717.0 144.9h0M717.9 131.9h0M721.5 133.9h0M719.6 130.2h0"/>
<path d="M189.00 662.85L723.00 128.85" stroke="#7a7a7a" stroke-width="1.0" stroke-dasharray="3.85 1.66" fill="none"/>
</g>
<rect x="189" y="128" width="534" height="535" fill="none" stroke="#cccccc" stroke-width="4.1667"/>
<rect x="207.50" y="147.50" width="274.00" height="65.00" rx="7.33" ry="7.33" fill="#ffffff" fill-opacity="0.8" stroke="#cccccc" stroke-opacity="0.8" stroke-width="3.333"/>
<circle cx="259.50" cy="180.50" r="2.1" fill="#444444" stroke="#000000" stroke-width="0.9"/>
<g font-family="Liberation Sans, sans-serif" fill="#262626">
<text x="325.03" y="189.80" font-size="38.50" textLength="141.11" lengthAdjust="spacingAndGlyphs">training</text>
<text x="171.76" y="715.70" font-size="26.25" textLength="35.15" lengthAdjust="spacingAndGlyphs">−7</text>
<text x="211.35" y="715.70" font-size="26.25" textLength="34.82" lengthAdjust="spacingAndGlyphs">−5</text>
<text x="250.92" y="715.70" font-size="26.25" textLength="35.03" lengthAdjust="spacingAndGlyphs">−3</text>
<text x="290.50" y="715.70" font-size="26.25" textLength="34.93" lengthAdjust="spacingAndGlyphs">−1</text>
<text x="340.32" y="715.70" font-size="26.25" textLength="13.98" lengthAdjust="spacingAndGlyphs">1</text>
<text x="379.96" y="715.70" font-size="26.25" textLength="14.05" lengthAdjust="spacingAndGlyphs">3</text>
<text x="419.55" y="715.70" font-size="26.25" textLength="13.83" lengthAdjust="spacingAndGlyphs">5</text>
<text x="458.89" y="715.70" font-size="26.25" textLength="14.37" lengthAdjust="spacingAndGlyphs">7</text>
<text x="498.03" y="715.70" font-size="26.25" textLength="15.11" lengthAdjust="spacingAndGlyphs">9</text>
<text x="529.93" y="715.70" font-size="26.25" textLength="30.42" lengthAdjust="spacingAndGlyphs">11</text>
<text x="569.66" y="715.70" font-size="26.25" textLength="30.33" lengthAdjust="spacingAndGlyphs">13</text>
<text x="609.25" y="715.70" font-size="26.25" textLength="30.11" lengthAdjust="spacingAndGlyphs">15</text>
<text x="648.81" y="715.70" font-size="26.25" textLength="30.42" lengthAdjust="spacingAndGlyphs">17</text>
<text x="688.36" y="715.70" font-size="26.25" textLength="30.69" lengthAdjust="spacingAndGlyphs">19</text>
<text x="118.65" y="673.04" font-size="26.25" textLength="35.15" lengthAdjust="spacingAndGlyphs">−7</text>
<text x="118.66" y="633.47" font-size="26.25" textLength="34.82" lengthAdjust="spacingAndGlyphs">−5</text>
<text x="118.66" y="593.89" font-size="26.25" textLength="35.03" lengthAdjust="spacingAndGlyphs">−3</text>
<text x="118.66" y="554.31" font-size="26.25" textLength="34.93" lengthAdjust="spacingAndGlyphs">−1</text>
<text x="139.38" y="514.74" font-size="26.25" textLength="13.98" lengthAdjust="spacingAndGlyphs">1</text>
<text x="139.44" y="475.16" font-size="26.25" textLength="14.05" lengthAdjust="spacingAndGlyphs">3</text>
<text x="139.46" y="435.59" font-size="26.25" textLength="13.83" lengthAdjust="spacingAndGlyphs">5</text>
<text x="139.22" y="396.01" font-size="26.25" textLength="14.37" lengthAdjust="spacingAndGlyphs">7</text>
<text x="138.79" y="356.44" font-size="26.25" textLength="15.11" lengthAdjust="spacingAndGlyphs">9</text>
<text x="123.16" y="316.86" font-size="26.25" textLength="30.42" lengthAdjust="spacingAndGlyphs">11</text>
<text x="123.31" y="277.29" font-size="26.25" textLength="30.33" lengthAdjust="spacingAndGlyphs">13</text>
<text x="123.33" y="237.71" font-size="26.25" textLength="30.11" lengthAdjust="spacingAndGlyphs">15</text>
<text x="123.31" y="198.13" font-size="26.25" textLength="30.42" lengthAdjust="spacingAndGlyphs">17</text>
<text x="123.29" y="158.56" font-size="26.25" textLength="30.69" lengthAdjust="spacingAndGlyphs">19</text>
<text x="271.76" y="764.25" font-size="35.00" textLength="368.10" lengthAdjust="spacingAndGlyphs">DFT energy (eV/atom)</text>
<text x="-91.86" y="396.50" font-size="35.00" textLength="370.91" lengthAdjust="spacingAndGlyphs" transform="rotate(-90 93.78 396.50)">MLP energy (eV/atom)</text>
</g>
<clipPath id="c2"><rect x="917" y="128" width="534" height="535"/></clipPath>
<g stroke="#cccccc" stroke-width="3.333" fill="none" stroke-dasharray="12.333 5.333">
<path d="M917.5 663.30V128.00"/>
<path d="M956.5 663.30V128.00"/>
<path d="M996.5 663.30V128.00"/>
<path d="M1035.5 663.30V128.00"/>
<path d="M1075.5 663.30V128.00"/>
<path d="M1114.5 663.30V128.00"/>
<path d="M1154.5 663.30V128.00"/>
<path d="M1194.5 663.30V128.00"/>
<path d="M1233.5 663.30V128.00"/>
<path d="M1273.5 663.30V128.00"/>
<path d="M1312.5 663.30V128.00"/>
<path d="M1352.5 663.30V128.00"/>
<path d="M1391.5 663.30V128.00"/>
<path d="M1431.5 663.30V128.00"/>
<path d="M917.40 663.5H1451.00"/>
<path d="M917.40 623.5H1451.00"/>
<path d="M917.40 584.5H1451.00"/>
<path d="M917.40 544.5H1451.00"/>
<path d="M917.40 504.5H1451.00"/>
<path d="M917.40 465.5H1451.00"/>
<path d="M917.40 425.5H1451.00"/>
<path d="M917.40 386.5H1451.00"/>
<path d="M917.40 346.5H1451.00"/>
<path d="M917.40 307.5H1451.00"/>
<path d="M917.40 267.5H1451.00"/>
<path d="M917.40 227.5H1451.00"/>
<path d="M917.40 188.5H1451.00"/>
<path d="M917.40 148.5H1451.00"/>
</g>
<g clip-path="url(#c2)">
<path stroke="#ff4500" stroke-opacity="0.66" stroke-width="5.4" stroke-linecap="round" fill="none" d="M935.5 643.8h0M937.2 642.2h0M935.8 643.7h0M926.7 652.7h0M925.6 653.6h0M922.5 656.8h0M919.9 659.4h0M923.9 655.3h0M935.9 643.6h0M938.2 641.0h0M928.3 651.1h0M920.0 659.3h0M926.9 652.3h0M922.3 657.0h0M923.0 656.3h0M934.8 644.4h0M935.9 643.4h0M929.7 649.6h0M924.7 654.6h0M927.9 651.5h0M936.8 642.6h0M925.6 653.6h0M937.6 641.6h0M930.6 648.8h0M921.4 658.0h0M926.7 652.7h0M927.0 652.3h0M918.7 660.7h0M924.0 655.3h0M935.5 644.0h0M959.8 619.6h0M944.9 633.8h0M953.9 624.9h0M953.6 625.3h0M958.0 622.3h0M942.2 637.2h0M946.9 632.2h0M957.5 621.2h0M947.5 631.8h0M944.2 635.0h0M953.8 625.4h0M957.4 621.7h0M946.1 633.3h0M948.8 630.2h0M943.0 636.3h0M958.2 619.6h0M947.1 632.2h0M939.3 640.7h0M957.1 622.0h0M950.8 628.7h0M944.8 634.3h0M956.1 623.3h0M948.4 630.0h0M949.1 630.1h0M960.7 618.1h0M944.0 634.6h0M960.5 618.3h0M941.7 636.8h0M953.1 627.0h0M958.7 620.8h0M954.9 625.2h0M953.8 625.7h0M946.1 633.1h0M957.4 622.6h0M944.7 634.7h0M949.5 629.2h0M952.9 627.6h0M955.0 624.3h0M943.1 637.0h0M941.9 638.0h0M943.1 637.6h0M953.3 626.7h0M946.8 631.5h0M940.8 638.0h0M960.2 619.5h0M954.2 626.1h0M967.4 613.1h0M993.1 585.7h0M963.7 615.2h0M984.5 595.2h0M978.4 601.6h0M986.4 592.8h0M990.6 588.4h0M984.8 594.0h0M992.6 586.0h0M990.0 589.0h0M977.0 602.2h0M974.8 605.7h0M967.2 613.4h0M994.8 584.7h0M980.9 597.8h0M989.7 590.7h0M993.6 584.9h0M963.5 615.3h0M973.2 606.7h0M986.5 593.3h0M962.0 619.0h0M974.5 606.5h0M980.0 599.0h0M984.0 595.0h0M988.2 589.6h0M993.6 586.5h0M1002.0 577.0h0M1003.0 577.6h0M1004.0 576.0h0M1009.0 572.0h0M1009.5 568.4h0M1013.3 567.3h0M1016.0 564.0h0M1014.2 564.8h0M1020.5 558.1h0M1026.8 552.4h0M1032.0 554.0h0M1034.9 554.0h0M1032.0 549.0h0M1031.8 547.7h0M1035.0 546.0h0M1043.0 540.0h0M964.0 617.0h0M964.3 617.9h0M973.5 607.8h0M978.0 601.0h0M982.0 597.0h0M982.7 596.5h0M1000.0 579.0h0M1014.0 565.0h0M1013.9 566.4h0M1021.9 557.4h0"/>
<path stroke="#ff4500" stroke-opacity="0.66" stroke-width="5.4" stroke-linecap="round" fill="none" d="M918.8 660.5h0M926.6 652.8h0M924.4 654.7h0M923.0 656.3h0M936.9 642.2h0M934.3 644.9h0M937.1 642.1h0M921.7 657.4h0M921.9 657.4h0M923.2 656.2h0M923.5 655.8h0M937.5 641.8h0M927.2 652.1h0M931.3 648.0h0M929.9 649.3h0M935.4 643.9h0M922.2 657.2h0M938.1 641.4h0M928.0 651.2h0M931.5 647.8h0M919.8 659.6h0M928.5 650.7h0M918.9 660.3h0M935.5 643.7h0M937.3 642.0h0M923.0 656.3h0M928.2 651.2h0M932.6 646.6h0M935.7 643.6h0M931.2 648.2h0M924.5 654.8h0M938.3 640.9h0M934.7 644.7h0M928.9 650.5h0M933.1 646.3h0M938.2 641.2h0M919.3 660.1h0M926.1 653.2h0M936.8 642.6h0M934.9 644.5h0M919.6 659.7h0M919.9 659.3h0M923.6 655.6h0M932.2 647.0h0M942.3 635.7h0M953.3 626.0h0M939.6 639.8h0M954.0 624.7h0M940.2 639.1h0M953.4 626.4h0M950.5 628.1h0M957.2 622.1h0M943.4 636.2h0M944.4 635.0h0M950.0 629.6h0M956.9 622.6h0M948.1 632.4h0M948.0 632.2h0M951.1 627.5h0M953.4 625.2h0M942.1 637.6h0M944.9 633.5h0M956.9 623.1h0M939.0 640.5h0M959.8 620.1h0M942.4 637.2h0M942.7 636.2h0M939.0 640.7h0M947.3 631.1h0M942.3 637.7h0M945.2 632.9h0M959.8 619.8h0M942.9 637.1h0M950.3 628.0h0M950.6 628.3h0M959.2 620.3h0M959.3 619.7h0M944.0 635.1h0M945.6 633.3h0M941.2 638.8h0M953.4 626.3h0M980.8 598.2h0M985.0 594.6h0M972.7 607.5h0M982.7 596.1h0M991.4 586.6h0M972.6 607.6h0M985.9 591.9h0M965.2 613.4h0M991.1 590.0h0M966.2 613.1h0M993.1 588.6h0M966.2 614.6h0M984.2 594.3h0M993.6 586.5h0M979.1 600.1h0M970.4 609.5h0M964.1 612.6h0M963.1 616.1h0M993.4 586.5h0M971.7 607.9h0M964.7 616.5h0M982.7 596.6h0M962.8 616.0h0M981.4 598.2h0M983.3 596.1h0M989.8 590.6h0M980.1 599.6h0M967.7 612.0h0M978.5 600.1h0M976.3 602.6h0M965.0 613.6h0M990.2 588.1h0M966.0 615.0h0M969.0 612.0h0M968.9 610.5h0M970.0 610.0h0M968.3 612.3h0M986.0 592.0h0M984.6 590.5h0M989.0 590.0h0M997.8 583.1h0M1003.3 577.5h0M1007.0 572.0h0M1006.5 572.1h0M1010.0 569.0h0M1018.0 561.0h0M1023.0 556.0h0M1022.7 556.1h0M1030.5 556.1h0M1033.0 547.5h0M1046.7 537.5h0M976.4 603.1h0M988.3 590.7h0M1004.3 573.2h0M1022.0 557.0h0"/>
<path stroke="#ff4500" stroke-opacity="0.66" stroke-width="5.4" stroke-linecap="round" fill="none" d="M918.5 660.8h0M931.2 648.3h0M924.5 654.8h0M918.9 660.5h0M931.3 648.0h0M927.3 651.9h0M932.1 647.0h0M927.2 652.1h0M932.4 647.0h0M928.3 650.9h0M931.3 648.0h0M927.6 651.7h0M934.7 644.6h0M918.2 661.1h0M919.1 660.2h0M936.5 642.6h0M919.1 660.1h0M921.0 658.3h0M931.1 648.0h0M928.0 651.3h0M928.6 650.6h0M922.3 656.9h0M922.9 656.5h0M937.1 642.2h0M936.4 642.9h0M932.5 646.8h0M926.8 652.4h0M935.7 643.5h0M929.1 650.1h0M924.3 655.0h0M929.9 649.6h0M929.3 650.0h0M926.7 652.5h0M933.2 646.2h0M928.2 651.0h0M935.2 644.0h0M930.0 649.2h0M951.5 627.8h0M951.9 627.8h0M942.0 637.4h0M950.2 628.4h0M950.7 629.2h0M940.5 638.9h0M939.9 639.3h0M957.9 621.6h0M960.2 619.7h0M950.8 628.2h0M956.3 623.0h0M948.5 631.4h0M943.6 636.5h0M950.3 629.1h0M960.1 620.4h0M949.0 629.4h0M941.3 637.8h0M959.0 620.2h0M947.9 631.5h0M948.9 630.0h0M950.7 628.3h0M957.3 622.2h0M954.5 624.0h0M959.3 620.2h0M939.3 638.9h0M955.8 623.2h0M943.2 635.8h0M944.2 635.6h0M957.7 621.8h0M950.8 628.8h0M947.1 631.4h0M945.7 633.2h0M956.2 623.6h0M944.4 635.4h0M945.3 634.4h0M944.0 634.3h0M947.5 632.3h0M959.9 618.6h0M949.1 631.0h0M958.7 619.5h0M944.0 634.9h0M956.3 623.1h0M960.0 619.1h0M943.4 636.4h0M955.7 623.6h0M956.7 622.8h0M956.1 622.6h0M980.9 599.0h0M979.2 599.0h0M982.2 598.9h0M967.5 612.5h0M980.7 599.1h0M975.3 603.9h0M969.6 609.2h0M971.8 606.8h0M967.7 610.4h0M979.1 600.3h0M964.8 614.9h0M976.2 602.9h0M977.4 602.0h0M979.5 602.1h0M973.9 605.9h0M967.1 611.4h0M979.6 600.0h0M992.8 586.4h0M962.1 620.2h0M966.6 615.9h0M974.0 606.0h0M976.0 603.0h0M975.8 602.4h0M983.4 597.7h0M983.9 594.9h0M990.0 589.0h0M989.4 590.0h0M995.0 586.0h0M996.0 582.0h0M998.0 580.0h0M996.6 576.5h0M1007.8 572.4h0M1012.0 567.0h0M1019.0 560.0h0M1021.0 558.0h0M1026.0 553.0h0M1028.0 557.0h0M1029.0 551.0h0M1028.4 553.4h0M1036.4 546.2h0M1034.0 547.0h0M1040.0 541.0h0M1041.6 541.8h0M1045.6 541.4h0M1044.0 542.0h0M1044.5 542.0h0M1046.0 536.0h0M1045.0 547.0h0M1046.0 548.3h0M972.0 608.0h0M988.0 591.0h0M998.0 578.8h0M1006.0 573.0h0M1030.0 552.0h0M1029.6 551.5h0"/>
<path d="M917.00 662.29L1451.00 128.29" stroke="#7a7a7a" stroke-width="1.0" stroke-dasharray="3.85 1.66" fill="none"/>
</g>
<rect x="917" y="128" width="534" height="535" fill="none" stroke="#cccccc" stroke-width="4.1667"/>
<rect x="935.50" y="147.50" width="202.00" height="65.00" rx="7.33" ry="7.33" fill="#ffffff" fill-opacity="0.8" stroke="#cccccc" stroke-opacity="0.8" stroke-width="3.333"/>
<circle cx="986.50" cy="180.50" r="2.1" fill="#ff8a60" stroke="#ff4500" stroke-width="0.9"/>
<g font-family="Liberation Sans, sans-serif" fill="#262626">
<text x="1053.03" y="189.80" font-size="38.50" textLength="69.42" lengthAdjust="spacingAndGlyphs">test</text>
<text x="899.20" y="715.70" font-size="26.25" textLength="35.15" lengthAdjust="spacingAndGlyphs">−7</text>
<text x="938.79" y="715.70" font-size="26.25" textLength="34.82" lengthAdjust="spacingAndGlyphs">−5</text>
<text x="978.36" y="715.70" font-size="26.25" textLength="35.03" lengthAdjust="spacingAndGlyphs">−3</text>
<text x="1017.94" y="715.70" font-size="26.25" textLength="34.93" lengthAdjust="spacingAndGlyphs">−1</text>
<text x="1067.76" y="715.70" font-size="26.25" textLength="13.98" lengthAdjust="spacingAndGlyphs">1</text>
<text x="1107.40" y="715.70" font-size="26.25" textLength="14.05" lengthAdjust="spacingAndGlyphs">3</text>
<text x="1146.99" y="715.70" font-size="26.25" textLength="13.83" lengthAdjust="spacingAndGlyphs">5</text>
<text x="1186.33" y="715.70" font-size="26.25" textLength="14.37" lengthAdjust="spacingAndGlyphs">7</text>
<text x="1225.47" y="715.70" font-size="26.25" textLength="15.11" lengthAdjust="spacingAndGlyphs">9</text>
<text x="1257.37" y="715.70" font-size="26.25" textLength="30.42" lengthAdjust="spacingAndGlyphs">11</text>
<text x="1297.10" y="715.70" font-size="26.25" textLength="30.33" lengthAdjust="spacingAndGlyphs">13</text>
<text x="1336.69" y="715.70" font-size="26.25" textLength="30.11" lengthAdjust="spacingAndGlyphs">15</text>
<text x="1376.25" y="715.70" font-size="26.25" textLength="30.42" lengthAdjust="spacingAndGlyphs">17</text>
<text x="1415.80" y="715.70" font-size="26.25" textLength="30.69" lengthAdjust="spacingAndGlyphs">19</text>
<text x="846.65" y="673.04" font-size="26.25" textLength="35.15" lengthAdjust="spacingAndGlyphs">−7</text>
<text x="846.66" y="633.47" font-size="26.25" textLength="34.82" lengthAdjust="spacingAndGlyphs">−5</text>
<text x="846.66" y="593.89" font-size="26.25" textLength="35.03" lengthAdjust="spacingAndGlyphs">−3</text>
<text x="846.66" y="554.31" font-size="26.25" textLength="34.93" lengthAdjust="spacingAndGlyphs">−1</text>
<text x="867.38" y="514.74" font-size="26.25" textLength="13.98" lengthAdjust="spacingAndGlyphs">1</text>
<text x="867.44" y="475.16" font-size="26.25" textLength="14.05" lengthAdjust="spacingAndGlyphs">3</text>
<text x="867.46" y="435.59" font-size="26.25" textLength="13.83" lengthAdjust="spacingAndGlyphs">5</text>
<text x="867.22" y="396.01" font-size="26.25" textLength="14.37" lengthAdjust="spacingAndGlyphs">7</text>
<text x="866.79" y="356.44" font-size="26.25" textLength="15.11" lengthAdjust="spacingAndGlyphs">9</text>
<text x="851.16" y="316.86" font-size="26.25" textLength="30.42" lengthAdjust="spacingAndGlyphs">11</text>
<text x="851.31" y="277.29" font-size="26.25" textLength="30.33" lengthAdjust="spacingAndGlyphs">13</text>
<text x="851.33" y="237.71" font-size="26.25" textLength="30.11" lengthAdjust="spacingAndGlyphs">15</text>
<text x="851.31" y="198.13" font-size="26.25" textLength="30.42" lengthAdjust="spacingAndGlyphs">17</text>
<text x="851.29" y="158.56" font-size="26.25" textLength="30.69" lengthAdjust="spacingAndGlyphs">19</text>
<text x="999.76" y="764.25" font-size="35.00" textLength="368.10" lengthAdjust="spacingAndGlyphs">DFT energy (eV/atom)</text>
<text x="636.14" y="396.50" font-size="35.00" textLength="370.91" lengthAdjust="spacingAndGlyphs" transform="rotate(-90 821.78 396.50)">MLP energy (eV/atom)</text>
</g>
<clipPath id="c3"><rect x="189" y="814" width="534" height="535"/></clipPath>
<g stroke="#cccccc" stroke-width="3.333" fill="none" stroke-dasharray="12.333 5.333">
<path d="M278.5 1349.30V814.00"/>
<path d="M376.5 1349.30V814.00"/>
<path d="M473.5 1349.30V814.00"/>
<path d="M570.5 1349.30V814.00"/>
<path d="M667.5 1349.30V814.00"/>
<path d="M189.40 1259.5H723.00"/>
<path d="M189.40 1162.5H723.00"/>
<path d="M189.40 1065.5H723.00"/>
<path d="M189.40 968.5H723.00"/>
<path d="M189.40 871.5H723.00"/>
</g>
<g clip-path="url(#c3)">
<path stroke="#000000" stroke-opacity="0.66" stroke-width="5.4" stroke-linecap="round" fill="none" d="M677.4 861.7h0M614.5 921.4h0M329.3 1208.7h0M368.1 1171.7h0M625.6 913.3h0M455.0 1081.0h0M369.6 1166.7h0M474.0 1062.9h0M499.4 1036.7h0M725.0 819.2h0M324.1 1214.7h0M478.9 1059.5h0M571.1 968.5h0M316.5 1218.6h0M351.2 1185.9h0M476.7 1057.9h0M651.5 885.1h0M260.0 1278.8h0M493.0 1045.4h0M475.7 1064.2h0M664.0 871.4h0M413.4 1123.0h0M290.4 1246.9h0M719.7 821.8h0M518.3 1018.8h0M290.7 1247.6h0M440.7 1100.0h0M560.6 980.0h0M555.7 981.6h0M280.8 1256.2h0M680.9 855.6h0M312.3 1224.2h0M545.0 993.5h0M407.5 1130.9h0M496.3 1040.4h0M225.6 1310.5h0M664.8 877.8h0M390.9 1147.9h0M396.7 1144.0h0M683.6 855.6h0M290.8 1246.1h0M283.4 1252.9h0M220.0 1317.6h0M623.5 913.6h0M478.4 1060.6h0M329.9 1208.7h0M400.7 1139.5h0M388.8 1146.7h0M353.3 1185.0h0M720.5 813.0h0M342.6 1196.9h0M584.1 957.1h0M538.8 996.5h0M716.0 817.9h0M384.9 1152.4h0M317.7 1220.0h0M647.9 889.1h0M270.8 1267.0h0M525.4 1017.6h0M554.2 983.2h0M307.8 1230.8h0M244.6 1292.9h0M685.8 853.0h0M628.1 910.3h0M236.7 1299.7h0M223.0 1314.3h0M506.4 1029.5h0M518.5 1019.3h0M223.5 1314.5h0M373.5 1165.8h0M633.1 908.8h0M388.0 1146.3h0M537.2 998.9h0M625.8 916.0h0M375.1 1162.8h0M314.8 1222.7h0M543.5 993.7h0M262.4 1274.5h0M586.7 952.1h0M661.9 876.0h0M675.2 864.8h0M226.4 1311.6h0M343.5 1192.4h0M553.1 985.0h0M555.8 980.8h0M324.0 1213.6h0M512.6 1025.4h0M280.5 1258.6h0M254.7 1283.7h0M371.3 1168.3h0M670.6 865.9h0M262.7 1275.0h0M589.4 949.0h0M614.9 924.8h0M311.5 1224.3h0M350.5 1188.7h0M490.3 1049.7h0M600.3 938.4h0M626.8 910.6h0M586.1 955.4h0M699.2 838.0h0M649.4 884.0h0M544.8 991.0h0M308.1 1227.6h0M430.1 1107.9h0M496.5 1046.3h0M689.0 854.5h0M413.3 1124.5h0M289.2 1248.6h0M640.2 897.3h0M689.5 852.0h0M273.1 1264.0h0M304.2 1233.5h0M686.4 846.1h0M247.6 1290.2h0M457.9 1078.4h0M229.4 1307.4h0M375.2 1162.7h0M673.0 870.0h0M687.3 847.7h0M277.3 1261.0h0M229.7 1308.2h0M658.4 878.8h0M480.0 1056.8h0M490.4 1049.9h0M665.1 874.6h0M305.5 1231.0h0M271.2 1266.6h0M715.1 825.3h0M470.3 1066.5h0M376.0 1163.3h0M453.5 1080.6h0M299.4 1236.9h0M383.3 1153.6h0M479.1 1061.4h0M628.0 909.8h0M576.7 964.5h0M546.1 997.5h0M571.2 968.3h0M320.9 1216.5h0M611.1 929.2h0M589.7 951.6h0M455.4 1080.2h0M424.5 1113.0h0M256.5 1282.3h0M695.5 842.0h0M447.2 1089.4h0M539.5 998.7h0M251.0 1286.3h0M313.9 1223.1h0M667.8 870.3h0M579.0 956.6h0M499.3 1043.5h0M563.9 974.5h0M501.9 1034.9h0M650.2 887.9h0M619.4 923.4h0M230.4 1307.2h0M512.8 1027.0h0M501.6 1036.6h0M557.0 985.1h0M364.3 1172.0h0M435.8 1106.9h0M405.1 1131.3h0M673.2 868.3h0M661.6 877.7h0M468.8 1068.6h0M316.9 1219.6h0M244.9 1293.7h0M545.9 988.8h0M542.7 997.8h0M346.3 1189.4h0M459.5 1080.3h0M317.8 1220.8h0M371.1 1168.8h0M345.4 1190.2h0M247.5 1290.1h0M612.5 927.1h0M552.7 987.0h0M441.2 1097.6h0M282.9 1255.9h0M307.8 1229.8h0M298.1 1238.3h0M450.0 1089.7h0M352.3 1185.3h0M532.3 1008.6h0M635.8 899.4h0M295.9 1241.3h0M675.5 857.2h0M238.2 1298.4h0M612.7 923.9h0M686.7 852.2h0M508.0 1033.4h0M706.0 828.7h0M527.5 1013.2h0M222.2 1315.4h0M281.1 1257.6h0M370.0 1168.9h0M356.8 1181.8h0M565.1 977.3h0M620.3 923.4h0M626.8 910.5h0M351.2 1187.9h0M351.7 1185.7h0M634.9 903.0h0M273.5 1265.4h0M256.3 1281.5h0M608.8 930.9h0M527.6 1013.3h0M659.4 880.9h0M596.2 944.1h0M408.6 1129.4h0M574.4 964.7h0M413.3 1125.0h0M591.2 949.3h0M455.7 1083.3h0M361.8 1176.9h0M302.2 1236.0h0M245.2 1292.3h0M509.1 1033.8h0M251.5 1285.8h0M458.2 1078.5h0M629.5 907.4h0M520.8 1014.9h0M661.8 878.4h0M215.5 1320.2h0M482.9 1053.2h0M403.8 1134.6h0M234.2 1302.4h0M292.0 1246.3h0M255.0 1282.1h0M506.8 1030.1h0M512.8 1025.7h0M547.9 985.0h0M517.9 1020.2h0M628.5 915.3h0M514.5 1018.8h0M298.5 1238.2h0M282.6 1255.1h0M592.7 947.9h0M568.3 974.5h0M302.6 1235.6h0M464.9 1073.4h0M285.7 1250.4h0M395.8 1142.7h0M617.4 921.7h0M664.0 873.0h0M296.7 1238.7h0M298.3 1239.8h0M360.0 1177.9h0M453.4 1086.6h0M516.6 1019.6h0M230.1 1306.9h0M384.1 1156.2h0M345.1 1193.9h0M422.2 1111.2h0M603.7 935.3h0M423.3 1114.3h0M524.7 1014.7h0M697.3 836.8h0M280.8 1257.9h0M681.9 853.8h0M688.3 853.3h0M529.5 1008.3h0M507.2 1034.3h0M425.6 1113.5h0M350.4 1184.2h0M405.8 1133.4h0M406.7 1130.8h0M604.6 932.8h0M456.7 1082.0h0M412.6 1125.1h0M436.8 1098.4h0M244.2 1293.4h0M356.6 1179.8h0M542.3 996.1h0M309.2 1228.4h0M267.7 1270.3h0M573.8 960.2h0M254.0 1283.7h0M715.0 815.1h0M316.4 1219.9h0M526.2 1015.2h0M234.5 1301.5h0M482.6 1055.4h0M524.1 1011.6h0M576.5 964.7h0M249.1 1289.3h0M692.8 851.1h0M438.1 1099.9h0M318.7 1218.5h0M260.9 1277.4h0M377.4 1161.1h0M227.0 1310.3h0M293.3 1243.8h0M481.4 1056.0h0M279.5 1257.6h0M571.7 967.3h0M620.1 911.5h0M304.3 1233.5h0M661.3 874.2h0M421.1 1115.6h0M442.0 1096.3h0M316.0 1222.1h0M662.7 874.8h0M677.1 859.2h0M357.8 1178.1h0M236.3 1301.8h0M512.7 1027.8h0M240.8 1295.9h0M473.8 1062.3h0M291.2 1247.9h0M644.7 894.6h0M535.8 999.9h0M636.3 900.4h0M219.8 1317.0h0M313.3 1225.7h0M717.8 819.6h0M491.9 1044.7h0M434.7 1101.9h0M554.7 982.5h0M410.2 1128.7h0M365.9 1172.3h0M552.9 980.9h0M468.0 1068.8h0M453.7 1082.7h0M628.7 907.7h0M630.8 905.9h0M248.5 1287.9h0M535.4 1006.4h0M673.3 863.1h0M630.5 902.4h0M304.8 1232.4h0M667.4 872.0h0M316.4 1220.7h0M481.7 1052.8h0M363.1 1177.3h0M690.5 849.7h0M219.4 1318.2h0M514.8 1023.3h0M452.7 1088.9h0M681.2 862.3h0M340.2 1198.1h0M372.9 1165.0h0M416.8 1119.9h0M283.5 1256.6h0M368.5 1168.6h0M257.3 1280.9h0M268.9 1267.1h0M493.3 1043.3h0M414.7 1121.6h0M477.3 1062.0h0M271.7 1265.7h0M591.5 949.6h0M345.7 1192.7h0M544.0 991.7h0M455.4 1083.3h0M453.4 1087.6h0M360.1 1176.2h0M688.9 849.2h0M424.7 1116.2h0M703.7 838.2h0M470.1 1066.4h0M403.2 1138.3h0M524.6 1010.4h0M383.0 1155.8h0M215.6 1320.6h0M615.8 920.4h0M274.2 1262.7h0M445.3 1091.3h0M289.0 1250.3h0M497.2 1043.4h0M583.3 956.7h0M350.3 1185.5h0M695.2 842.2h0M636.4 898.2h0M497.5 1038.7h0M452.1 1087.2h0M522.5 1020.0h0M240.2 1297.2h0M440.6 1098.5h0M516.8 1022.5h0M387.7 1151.8h0M530.4 1009.0h0M634.6 909.3h0M464.0 1075.0h0M711.8 829.0h0M278.6 1258.7h0M528.3 1008.7h0M476.3 1060.3h0M257.7 1279.8h0M712.6 827.8h0M667.0 870.5h0M278.8 1257.8h0M470.9 1067.5h0M423.9 1114.8h0M544.3 994.6h0M686.8 849.5h0M296.0 1241.7h0M459.9 1074.8h0M725.2 811.4h0M477.2 1063.0h0M686.3 850.6h0M419.2 1118.6h0M692.9 846.6h0M319.7 1216.2h0M256.0 1281.0h0M581.4 961.7h0M675.6 866.0h0M711.3 830.4h0M608.3 934.5h0M243.5 1295.2h0M576.6 964.3h0M398.2 1139.7h0M685.1 857.7h0M401.1 1136.1h0M687.0 844.4h0M522.5 1020.5h0M560.7 979.9h0M260.2 1277.4h0M594.1 941.1h0M532.1 1007.4h0M677.6 863.4h0M488.8 1047.7h0M301.5 1235.1h0M698.3 840.2h0M392.6 1143.2h0M251.6 1285.3h0M716.5 822.6h0M614.0 924.6h0M303.8 1233.1h0M450.9 1086.7h0M568.7 968.9h0M415.9 1120.1h0M454.4 1082.7h0M402.0 1135.6h0M440.7 1099.6h0M646.2 890.8h0M651.9 887.1h0M533.4 1007.1h0M398.7 1136.7h0M549.5 993.5h0M284.4 1252.6h0M712.8 824.8h0M663.5 870.4h0M381.6 1156.4h0M579.4 961.8h0M379.1 1158.2h0M553.6 979.8h0M511.1 1024.6h0M532.4 1006.7h0M444.2 1094.6h0M588.7 952.2h0M453.0 1086.0h0M401.3 1138.4h0M493.6 1042.3h0M535.2 1005.1h0M672.5 867.6h0M348.0 1189.5h0M573.8 958.2h0M379.4 1157.3h0M572.4 969.3h0M543.1 993.4h0M564.0 975.1h0M563.5 975.2h0M504.2 1037.2h0M471.0 1067.8h0M412.5 1125.0h0M396.3 1141.6h0M267.0 1269.6h0M276.0 1262.8h0M400.6 1135.9h0M285.3 1252.1h0M361.9 1174.9h0M282.0 1255.8h0M637.2 907.1h0M664.2 867.3h0M722.5 816.9h0M692.6 847.7h0M417.3 1120.1h0M573.6 969.9h0M333.6 1204.3h0M554.4 989.8h0M561.3 974.7h0M453.1 1083.0h0M627.4 913.2h0M548.0 987.8h0M309.5 1227.8h0M639.0 902.3h0M642.6 894.5h0M366.9 1169.9h0M480.6 1055.7h0M381.9 1156.6h0M476.3 1057.0h0M625.8 912.6h0M395.7 1145.3h0M371.9 1166.0h0M370.8 1166.5h0M284.4 1252.9h0M654.7 882.2h0M547.8 989.0h0M314.8 1220.5h0M266.3 1270.9h0M725.8 814.9h0M586.1 950.3h0M499.4 1041.4h0M232.9 1303.3h0M310.8 1228.1h0M265.3 1271.2h0M583.1 952.2h0M465.7 1069.9h0M725.5 811.9h0M248.4 1289.0h0M341.1 1194.1h0M598.5 940.7h0M440.9 1096.1h0M612.1 929.5h0M547.2 992.1h0M306.2 1231.4h0M604.1 938.4h0M520.8 1020.3h0M540.8 995.7h0M389.2 1149.1h0M536.2 992.1h0M248.6 1288.8h0M402.2 1137.4h0M446.6 1089.4h0M310.1 1228.2h0M713.0 828.0h0M454.3 1086.4h0M489.7 1047.6h0M254.4 1282.4h0M427.5 1113.1h0M400.4 1135.0h0M635.8 898.7h0M351.1 1187.3h0M493.6 1044.1h0M639.5 897.1h0M649.0 894.1h0M461.8 1079.0h0M386.3 1152.6h0M643.5 893.5h0M411.4 1128.5h0M452.6 1083.9h0M590.7 946.0h0M563.5 972.4h0M644.1 892.8h0M253.6 1284.5h0M587.7 948.5h0M215.5 1321.4h0M324.4 1214.7h0M244.2 1293.5h0M361.3 1176.2h0M384.8 1151.8h0M407.8 1131.1h0M533.3 1005.3h0M624.6 917.0h0M582.2 953.6h0M586.2 948.9h0M346.2 1189.0h0M274.8 1261.7h0M222.9 1314.7h0M553.0 987.3h0M614.4 923.6h0M487.9 1051.1h0M340.2 1196.9h0M349.9 1189.6h0M401.0 1137.3h0M446.9 1088.4h0M316.9 1219.2h0M697.4 834.9h0M429.1 1113.2h0M406.2 1132.3h0M555.4 982.0h0M562.4 972.0h0M331.5 1205.2h0M445.3 1097.5h0M362.8 1173.9h0M428.4 1110.0h0M549.1 989.6h0M292.1 1246.7h0M647.6 893.4h0M314.4 1222.4h0M296.4 1241.1h0M316.9 1219.9h0M260.7 1277.6h0M452.5 1084.1h0M448.1 1088.0h0M422.8 1113.7h0M295.9 1240.2h0M618.2 920.5h0M406.0 1129.9h0M472.7 1062.7h0M428.0 1107.3h0M336.4 1201.5h0M518.0 1018.3h0M424.7 1114.6h0M416.7 1121.6h0M671.4 869.2h0M702.2 832.4h0M245.3 1291.3h0M216.8 1320.1h0M219.7 1320.3h0M678.9 860.6h0M648.6 888.0h0M701.1 845.0h0M392.5 1144.7h0M662.2 876.8h0M372.3 1164.1h0M688.8 848.4h0M325.7 1211.9h0M365.5 1172.6h0M638.0 900.6h0M645.0 893.5h0M500.4 1035.7h0M572.0 968.2h0M363.8 1172.5h0M393.7 1145.1h0M512.4 1027.8h0M646.5 894.2h0M356.8 1181.0h0M615.9 923.3h0M221.4 1314.5h0M700.8 838.9h0M594.1 946.0h0M452.4 1083.7h0M677.1 862.4h0M411.8 1125.0h0M601.1 940.1h0M526.6 1012.6h0M490.7 1048.5h0M269.9 1266.7h0M436.9 1101.6h0M641.2 895.4h0M238.3 1299.3h0M638.7 901.4h0M572.2 966.9h0M396.5 1141.2h0M507.0 1029.6h0M360.0 1177.2h0M351.1 1186.8h0M481.5 1056.7h0M539.3 996.5h0M687.3 854.4h0M687.6 843.1h0M413.7 1123.8h0M641.1 893.5h0M594.5 939.6h0M611.3 929.9h0M602.1 932.1h0M454.7 1085.3h0M639.8 899.6h0M653.8 883.8h0M639.0 897.0h0M551.4 988.8h0M668.2 869.5h0M598.9 939.1h0M298.7 1237.0h0M603.4 936.2h0M347.2 1190.8h0M332.2 1203.8h0M409.8 1127.7h0M550.1 987.6h0M671.5 865.5h0M720.3 813.5h0M522.8 1015.2h0M475.2 1062.1h0M374.4 1163.2h0M643.2 894.4h0M222.2 1315.4h0M225.0 1314.3h0M613.5 927.7h0M411.2 1126.2h0M467.8 1068.9h0M504.8 1031.8h0M571.8 969.5h0M537.2 1003.9h0M541.3 996.7h0M625.6 911.2h0M235.6 1302.9h0M410.6 1127.2h0M520.6 1019.2h0M536.6 999.9h0M276.0 1262.2h0M219.7 1317.7h0M320.8 1214.9h0M502.3 1033.8h0M399.1 1140.2h0M558.4 983.5h0M222.4 1313.3h0M561.4 978.2h0M658.8 876.5h0M433.8 1106.2h0M555.5 981.5h0M272.6 1264.9h0M271.9 1265.1h0M550.5 989.6h0M320.1 1217.5h0M513.3 1022.9h0M696.3 841.4h0M233.6 1303.8h0M683.4 854.9h0M588.6 945.0h0M549.9 988.2h0M362.3 1174.2h0M666.9 874.5h0M473.7 1061.6h0M718.2 826.9h0M472.7 1065.5h0M246.8 1292.4h0M275.4 1261.4h0M653.4 885.1h0M597.3 942.6h0M645.3 895.6h0M512.1 1018.7h0M511.0 1028.1h0M487.5 1054.5h0M469.9 1068.9h0M456.0 1082.2h0M324.6 1212.3h0M258.5 1280.3h0M601.1 935.9h0M442.7 1095.9h0M265.8 1271.6h0M453.6 1083.9h0M290.3 1248.2h0M346.5 1190.4h0M573.2 962.4h0M377.3 1158.7h0M511.0 1027.6h0M602.9 928.7h0M460.5 1077.1h0M388.4 1149.1h0M648.0 888.2h0M676.8 861.2h0M338.3 1200.6h0M289.7 1247.8h0M602.5 935.1h0M262.6 1274.4h0M538.7 997.0h0M401.7 1137.0h0M699.5 843.2h0M577.2 962.7h0M648.0 894.5h0M402.7 1132.9h0M295.8 1241.3h0M613.6 929.9h0M462.6 1073.9h0M682.2 852.3h0M415.4 1121.6h0M245.4 1291.1h0M477.5 1061.8h0M573.3 961.8h0M706.4 837.7h0M521.0 1015.4h0M558.7 980.5h0M661.4 878.1h0M566.1 972.1h0M546.8 994.1h0M676.3 864.6h0M362.1 1177.8h0M410.9 1125.3h0M653.1 887.4h0M255.3 1281.5h0M568.5 967.9h0M224.7 1312.9h0M598.6 935.5h0M613.0 929.1h0M348.7 1191.5h0M217.4 1318.3h0M389.1 1149.3h0M264.3 1271.9h0M616.9 923.1h0M334.2 1201.8h0M363.6 1173.5h0M595.8 944.9h0M475.5 1066.1h0M577.5 961.9h0M638.0 902.4h0M253.3 1286.0h0M454.7 1081.9h0M283.3 1253.6h0M302.9 1235.2h0M721.5 811.9h0M705.2 841.9h0M692.9 849.4h0M640.9 896.1h0M488.0 1053.4h0M368.2 1168.4h0M532.2 1008.3h0M246.8 1291.0h0M219.6 1317.5h0M390.1 1148.3h0M645.4 896.3h0M693.0 839.4h0M677.3 864.7h0M351.2 1184.8h0M414.0 1123.8h0M304.2 1236.8h0M665.1 875.4h0M346.4 1190.4h0M607.7 935.9h0M622.4 910.3h0M280.0 1257.8h0M566.5 971.2h0M600.1 939.3h0M678.5 857.5h0M551.5 984.8h0M414.6 1125.0h0M453.5 1083.8h0M222.5 1314.9h0M521.4 1015.5h0M697.9 841.0h0M708.7 827.1h0M653.7 884.1h0M415.3 1122.8h0M337.1 1200.1h0M402.8 1134.1h0M479.7 1055.6h0M616.9 923.5h0M303.1 1231.8h0M442.6 1097.3h0M424.6 1117.4h0M675.0 863.7h0M619.3 922.5h0M295.5 1243.4h0M625.8 915.1h0M644.0 892.0h0M507.1 1029.2h0M422.7 1115.2h0M669.2 867.1h0M606.0 931.7h0M295.9 1242.2h0M231.5 1306.0h0M387.6 1150.2h0M313.5 1224.3h0M557.8 979.4h0M586.5 954.1h0M578.5 960.8h0M429.7 1109.0h0M327.8 1208.3h0M360.0 1176.5h0M345.3 1192.6h0M520.5 1015.0h0M681.4 851.5h0M442.7 1096.3h0M580.5 957.7h0M629.3 909.3h0M432.3 1104.4h0M725.6 814.5h0M701.2 832.0h0M538.1 999.8h0M243.2 1295.0h0M577.8 963.2h0M314.0 1223.0h0M251.1 1286.9h0M481.6 1057.9h0M667.0 871.6h0M714.5 830.5h0M445.9 1096.3h0M286.1 1252.5h0M707.8 832.8h0M331.1 1209.4h0M349.6 1187.9h0M658.5 880.7h0M539.4 994.7h0M375.5 1161.3h0M656.8 877.9h0M593.1 943.5h0M502.5 1038.0h0M305.1 1231.3h0M690.0 848.6h0M498.3 1037.9h0M467.5 1069.8h0M267.5 1269.2h0M553.2 985.8h0M421.0 1115.5h0M312.1 1223.3h0M561.0 974.3h0M632.6 904.2h0M706.7 830.3h0M247.2 1289.5h0M411.6 1127.5h0M453.2 1085.5h0M703.6 837.3h0M425.7 1110.1h0M326.3 1209.6h0M526.4 1011.6h0M222.6 1316.1h0M340.2 1200.4h0M384.0 1151.4h0M703.0 842.3h0M467.6 1069.4h0M327.9 1207.8h0M379.2 1155.8h0M458.2 1081.2h0M459.4 1079.7h0M382.7 1156.9h0M257.1 1281.7h0M523.2 1015.2h0M291.2 1247.8h0M221.2 1316.4h0M712.9 819.8h0M671.1 868.8h0M723.0 820.9h0M514.9 1025.0h0M713.7 825.5h0M684.3 855.6h0M249.2 1289.3h0M368.8 1167.6h0M373.0 1166.2h0M252.0 1285.8h0M270.2 1267.8h0M580.7 952.9h0M556.0 981.5h0M596.7 941.9h0M644.8 890.0h0M678.8 861.3h0M580.4 960.4h0M259.4 1277.9h0M242.5 1292.8h0M685.0 855.6h0M430.9 1106.9h0M356.2 1181.8h0M241.0 1295.3h0M250.8 1288.2h0M340.2 1198.2h0M569.9 965.5h0M221.9 1314.3h0M660.7 875.5h0M506.8 1033.7h0M551.8 986.6h0M491.5 1046.7h0M647.8 890.1h0M544.6 998.3h0M503.8 1032.0h0M565.2 974.1h0M417.3 1121.3h0M512.3 1025.6h0M604.8 933.4h0M557.6 978.7h0M659.7 877.9h0M330.9 1206.1h0M528.5 1013.7h0M224.1 1312.4h0M535.1 1003.0h0M441.4 1096.4h0M713.7 824.2h0M214.3 1322.9h0M707.5 830.2h0M423.4 1111.2h0M443.6 1093.9h0M706.2 830.8h0M388.5 1149.6h0M554.9 979.7h0M418.2 1121.5h0M270.0 1269.7h0M610.7 925.5h0M503.7 1036.6h0M534.6 1004.3h0M720.1 820.8h0M266.8 1270.9h0M617.5 919.3h0M526.9 1014.5h0M241.2 1296.7h0M318.1 1219.6h0M248.9 1287.2h0M432.4 1107.4h0M331.8 1203.5h0M409.8 1127.7h0M529.1 1004.2h0M315.9 1223.4h0M502.3 1036.4h0M540.9 994.6h0M372.0 1163.3h0M239.2 1297.5h0M572.7 964.5h0M687.1 853.8h0M621.1 915.8h0M448.9 1090.1h0M677.1 866.4h0M646.0 896.7h0M495.7 1040.7h0M435.4 1099.8h0M565.3 972.7h0M422.4 1114.6h0M401.6 1136.6h0M635.9 899.1h0M580.6 956.6h0M418.7 1119.4h0M428.6 1108.0h0M440.0 1096.3h0M640.1 894.2h0M472.1 1063.7h0M641.3 902.5h0M562.3 976.9h0M453.5 1086.2h0M399.4 1138.3h0M246.4 1289.9h0M498.9 1038.5h0M634.4 903.5h0M220.8 1315.6h0M482.2 1056.7h0M420.6 1117.8h0M490.6 1050.0h0M235.3 1301.4h0M721.9 819.8h0M595.3 945.2h0M568.5 972.6h0M273.9 1263.7h0M406.1 1127.7h0M247.1 1291.9h0M583.0 959.2h0M470.5 1069.4h0M660.8 878.2h0M675.2 860.8h0M216.8 1320.3h0M258.8 1279.3h0M233.2 1305.3h0M270.3 1267.5h0M508.1 1025.5h0M538.2 997.4h0M585.0 952.4h0M690.2 854.5h0M521.7 1019.0h0M543.0 991.8h0M588.2 953.2h0M667.2 872.1h0M414.6 1123.2h0M576.2 964.5h0M418.2 1118.8h0M387.8 1151.7h0M645.8 894.9h0M234.2 1303.1h0M609.6 928.4h0M561.2 977.0h0M562.4 983.4h0M520.7 1020.3h0M703.9 833.8h0M359.6 1179.9h0M581.9 955.7h0M570.8 967.8h0M625.6 906.7h0M343.7 1196.4h0M460.9 1076.6h0M268.3 1270.1h0M646.3 892.9h0M297.9 1240.1h0M333.8 1203.3h0M641.7 900.0h0M240.5 1297.7h0M263.5 1274.6h0M570.9 966.0h0M371.5 1165.2h0M213.6 1324.3h0M491.6 1048.2h0M529.3 1006.6h0M626.5 913.5h0M473.8 1063.9h0M230.6 1307.0h0M328.9 1209.1h0M507.9 1031.6h0M236.3 1302.5h0M256.1 1281.5h0M439.7 1096.0h0M528.2 1012.0h0M560.7 979.4h0M338.8 1198.3h0M346.0 1192.4h0M402.2 1134.8h0M683.6 853.5h0M319.5 1220.0h0M337.5 1201.9h0M379.0 1159.4h0M651.3 886.6h0M329.5 1206.8h0M325.0 1212.2h0M602.5 942.5h0M328.9 1208.7h0M338.8 1197.1h0M473.1 1066.3h0M241.3 1296.2h0M312.2 1227.1h0M284.5 1252.5h0M557.9 978.7h0M408.5 1128.2h0M369.1 1169.9h0M630.3 912.5h0M628.8 906.1h0M466.1 1075.1h0M237.7 1293.7h0M258.7 1271.7h0M498.0 1015.0h0M354.0 1192.0h0"/>
<path stroke="#000000" stroke-opacity="0.66" stroke-width="5.4" stroke-linecap="round" fill="none" d="M638.1 899.4h0M356.8 1180.4h0M344.6 1193.0h0M443.2 1095.3h0M295.6 1241.1h0M529.9 1007.2h0M231.1 1306.2h0M479.3 1056.9h0M454.1 1081.3h0M687.8 847.4h0M538.6 1001.2h0M404.0 1134.3h0M214.5 1322.9h0M522.5 1011.7h0M243.3 1293.4h0M379.9 1157.5h0M409.2 1127.1h0M543.1 995.4h0M563.1 975.9h0M336.7 1199.4h0M421.1 1116.7h0M262.7 1274.4h0M368.2 1167.9h0M665.5 871.1h0M650.4 888.2h0M287.9 1248.2h0M693.3 843.7h0M670.6 866.3h0M232.3 1304.8h0M601.9 939.4h0M405.4 1133.6h0M276.2 1262.3h0M713.7 825.2h0M434.4 1101.3h0M483.9 1053.7h0M481.5 1056.3h0M696.2 845.9h0M215.3 1323.3h0M602.7 937.6h0M632.5 902.4h0M429.6 1109.1h0M305.5 1231.7h0M509.6 1029.5h0M442.9 1092.7h0M597.4 939.3h0M433.6 1101.4h0M667.6 875.7h0M690.7 850.3h0M435.4 1102.7h0M630.2 911.8h0M563.1 976.9h0M238.8 1299.1h0M686.9 850.7h0M460.9 1078.7h0M520.7 1020.1h0M710.7 831.1h0M608.4 931.3h0M483.7 1054.8h0M687.0 852.9h0M228.3 1309.4h0M232.8 1304.5h0M298.6 1239.0h0M698.7 839.3h0M491.5 1048.1h0M529.0 1007.9h0M510.2 1024.1h0M710.0 824.9h0M655.1 883.3h0M377.3 1162.1h0M271.0 1266.6h0M279.5 1258.9h0M669.9 866.6h0M528.3 1009.7h0M555.2 980.2h0M639.4 897.8h0M628.9 908.7h0M382.1 1157.4h0M296.3 1241.1h0M504.6 1034.4h0M340.8 1195.5h0M383.5 1155.7h0M254.8 1282.8h0M602.6 935.3h0M367.9 1168.5h0M252.8 1286.6h0M608.0 929.5h0M281.6 1254.6h0M280.3 1259.3h0M682.2 862.3h0M644.1 894.2h0M533.8 1005.8h0M437.9 1100.7h0M640.4 897.1h0M561.9 971.4h0M404.7 1132.6h0M245.8 1291.3h0M605.0 935.6h0M308.0 1232.3h0M615.2 926.0h0M417.2 1123.4h0M606.1 933.4h0M605.1 939.8h0M586.3 948.0h0M650.0 890.0h0M284.0 1253.6h0M606.5 932.2h0M260.1 1277.4h0M325.1 1210.8h0M611.1 927.5h0M374.3 1165.6h0M242.0 1294.6h0M330.3 1206.8h0M303.9 1235.7h0M307.8 1228.7h0M559.6 977.7h0M485.6 1051.8h0M359.2 1179.1h0M417.5 1120.3h0M622.3 916.0h0M283.2 1252.4h0M700.4 846.4h0M332.1 1205.7h0M475.0 1062.5h0M686.6 854.6h0M233.6 1304.1h0M669.0 869.5h0M606.8 930.2h0M642.1 897.0h0M593.7 943.7h0M368.9 1167.0h0M604.5 938.5h0M298.5 1240.1h0M689.0 855.4h0M521.7 1014.0h0M697.9 838.4h0M260.0 1277.3h0M712.8 825.6h0M629.0 909.1h0M358.6 1178.1h0M705.1 834.6h0M437.2 1100.5h0M645.2 895.6h0M386.2 1150.5h0M559.5 978.9h0M498.4 1041.9h0M246.4 1290.8h0M501.7 1033.2h0M519.9 1016.7h0M315.1 1223.4h0M601.3 939.9h0M630.7 908.5h0M453.9 1079.4h0M534.0 1005.1h0M636.9 905.2h0M423.0 1115.2h0M409.7 1122.8h0M454.3 1083.5h0M604.0 936.0h0M473.5 1065.5h0M387.7 1149.5h0M641.0 896.3h0M410.0 1126.6h0M581.9 957.3h0M658.3 882.2h0M563.7 974.5h0M514.9 1022.9h0M395.2 1145.3h0M444.4 1094.4h0M408.0 1126.6h0M350.9 1185.5h0M670.8 864.0h0M567.8 973.5h0M374.7 1163.4h0M315.2 1223.9h0M430.3 1106.2h0M458.0 1081.3h0M449.9 1089.4h0M495.4 1040.2h0M578.6 958.0h0M611.8 934.7h0M242.0 1294.6h0M592.3 946.9h0M636.1 902.2h0M443.2 1095.3h0M407.7 1131.2h0M484.4 1049.2h0M431.7 1103.5h0M580.2 962.5h0M313.9 1223.0h0M379.1 1155.4h0M610.6 922.7h0M690.9 848.7h0M601.3 937.9h0M390.7 1151.1h0M345.7 1191.7h0M284.1 1254.0h0M302.6 1237.1h0M359.4 1176.3h0M710.9 825.7h0M225.9 1312.4h0M458.3 1078.7h0M220.4 1316.6h0M307.9 1230.6h0M423.1 1112.8h0M428.9 1110.7h0M556.2 984.4h0M706.5 827.2h0M671.7 859.1h0M375.9 1161.6h0M643.1 895.4h0M386.5 1149.9h0M587.8 947.3h0M430.7 1107.1h0M387.0 1150.3h0M252.7 1284.2h0M444.4 1095.4h0M279.7 1257.4h0M230.8 1305.5h0M497.6 1038.7h0M651.2 891.2h0M374.6 1162.4h0M448.2 1089.1h0M541.9 1003.2h0M711.5 824.9h0M582.3 957.3h0M357.0 1179.9h0M444.7 1092.0h0M370.9 1166.3h0M252.5 1284.5h0M326.3 1209.8h0M353.0 1183.2h0M453.9 1086.6h0M690.6 843.3h0M475.1 1059.7h0M277.3 1260.0h0M671.0 867.5h0M660.9 879.5h0M250.5 1286.7h0M349.8 1187.1h0M633.6 905.2h0M447.4 1092.1h0M415.8 1120.3h0M706.6 834.0h0M380.3 1157.2h0M508.5 1027.7h0M497.8 1040.4h0M315.2 1220.9h0M421.4 1114.9h0M405.5 1135.4h0M493.2 1047.1h0M502.3 1038.9h0M268.0 1268.2h0M636.3 902.8h0M691.2 846.7h0M341.9 1194.1h0M455.8 1083.7h0M248.9 1287.8h0M484.1 1051.9h0M598.8 935.5h0M721.4 818.5h0M631.3 908.8h0M373.7 1161.6h0M475.7 1063.3h0M397.3 1140.9h0M343.7 1194.3h0M284.9 1252.0h0M439.4 1099.8h0M279.3 1259.0h0M266.0 1272.1h0M229.7 1307.8h0M247.3 1288.9h0M504.8 1036.4h0M293.7 1243.7h0M633.7 904.1h0M674.6 871.2h0M447.3 1091.5h0M701.0 837.6h0M702.6 833.7h0M699.7 839.0h0M422.9 1113.3h0M285.0 1251.7h0M560.7 975.6h0M628.3 913.1h0M331.8 1208.4h0M333.7 1205.4h0M606.7 933.1h0M604.5 930.8h0M542.1 999.6h0M230.2 1307.8h0M422.1 1114.8h0M343.9 1192.6h0M393.0 1144.2h0M578.7 962.1h0M317.4 1221.6h0M704.8 830.2h0M382.5 1156.4h0M214.8 1322.3h0M497.6 1038.2h0M251.9 1286.4h0M317.5 1218.5h0M385.2 1153.3h0M710.4 828.4h0M677.7 865.9h0M542.1 996.1h0M264.6 1272.3h0M680.3 855.3h0M386.4 1149.4h0M385.1 1151.9h0M257.4 1280.0h0M625.0 916.7h0M563.0 977.8h0M496.1 1043.1h0M264.6 1272.6h0M544.5 993.0h0M674.1 868.1h0M247.2 1289.7h0M633.4 906.5h0M653.7 888.7h0M719.1 819.2h0M339.1 1196.2h0M216.8 1319.6h0M581.7 956.4h0M699.2 831.2h0M477.5 1061.7h0M705.5 840.7h0M704.2 833.5h0M511.0 1024.7h0M321.4 1213.6h0M574.5 963.9h0M242.0 1293.9h0M343.5 1196.0h0M302.3 1233.5h0M682.3 853.7h0M710.0 830.2h0M658.0 884.2h0M362.7 1174.5h0M385.6 1150.2h0M493.3 1046.7h0M263.1 1272.5h0M711.1 822.6h0M720.7 816.5h0M662.8 872.9h0M482.7 1055.4h0M349.2 1187.6h0M282.2 1254.1h0M310.3 1227.7h0M431.4 1109.1h0M435.0 1102.4h0M419.4 1122.1h0M584.9 953.4h0M676.0 862.9h0M474.3 1064.7h0M227.7 1308.3h0M220.4 1316.9h0M296.2 1240.3h0M457.1 1079.4h0M377.5 1158.6h0M629.4 913.6h0M283.9 1251.6h0M434.5 1099.0h0M609.7 924.3h0M585.6 951.5h0M427.5 1109.6h0M616.4 925.4h0M303.6 1234.4h0M585.0 953.9h0M480.1 1056.7h0M665.0 871.9h0M228.1 1308.2h0M526.0 1012.3h0M238.2 1299.4h0M370.4 1167.9h0M638.7 901.2h0M507.7 1031.5h0M710.3 832.2h0M364.8 1175.5h0M362.5 1174.2h0M676.2 869.0h0M601.2 939.5h0M366.4 1173.4h0M597.9 938.0h0M243.1 1295.3h0M519.5 1021.0h0M263.0 1275.2h0M620.4 920.9h0M662.9 874.8h0M380.8 1157.9h0M537.9 1003.1h0M219.2 1317.7h0M400.1 1137.6h0M606.4 932.1h0M552.0 986.1h0M362.8 1173.9h0M668.6 871.7h0M411.8 1125.3h0M578.4 963.1h0M456.5 1081.3h0M642.8 896.4h0M366.6 1169.9h0M246.7 1290.4h0M461.2 1079.5h0M277.3 1260.3h0M340.5 1195.8h0M627.6 912.6h0M467.5 1067.6h0M257.6 1279.6h0M348.2 1189.3h0M500.6 1038.8h0M378.4 1159.4h0M256.5 1280.6h0M212.9 1324.9h0M687.7 846.2h0M583.5 951.5h0M659.7 874.7h0M263.9 1274.2h0M411.6 1126.3h0M482.9 1054.6h0M359.7 1178.1h0M382.1 1155.4h0M308.8 1229.9h0M217.2 1320.8h0M592.4 950.5h0M234.7 1303.6h0M471.5 1065.9h0M238.6 1297.7h0M473.9 1062.6h0M553.2 983.7h0M335.2 1203.1h0M276.4 1259.5h0M238.5 1298.7h0M699.2 837.1h0M425.0 1115.4h0M495.9 1042.6h0M584.9 956.9h0M594.1 946.4h0M579.1 961.7h0M426.6 1112.6h0M358.3 1178.5h0M338.0 1200.5h0M289.5 1247.8h0M364.5 1175.3h0M390.7 1149.7h0M500.0 1035.9h0M557.5 979.9h0M541.6 992.4h0M349.4 1185.5h0M476.1 1063.2h0M565.7 969.6h0M244.3 1294.0h0M557.5 979.7h0M256.0 1280.8h0M555.8 982.6h0M598.8 939.7h0M411.6 1126.3h0M391.5 1147.3h0M527.3 1014.7h0M326.5 1212.0h0M250.8 1285.7h0M675.5 862.7h0M278.4 1258.7h0M674.5 867.5h0M273.6 1263.2h0M582.1 956.6h0M622.3 912.0h0M436.8 1103.4h0M638.3 897.4h0M596.3 937.1h0M369.0 1165.4h0M421.3 1116.5h0M259.2 1278.1h0M636.0 904.2h0M647.7 893.7h0M589.8 947.8h0M561.0 979.5h0M467.2 1074.1h0M431.0 1105.9h0M565.7 972.3h0M260.5 1277.2h0M416.1 1124.8h0M257.1 1279.8h0M605.2 931.5h0M661.0 877.2h0M441.1 1096.0h0M474.6 1064.8h0M313.5 1225.0h0M724.7 817.2h0M386.2 1148.9h0M699.5 841.1h0M713.0 830.6h0M393.5 1146.0h0M423.5 1117.4h0M691.2 850.0h0M288.4 1251.8h0M701.6 839.4h0M387.6 1151.1h0M550.5 989.0h0M617.0 920.0h0M490.1 1048.6h0M449.5 1088.9h0M265.6 1270.9h0M313.7 1223.9h0M415.2 1120.3h0M364.6 1174.9h0M430.9 1105.7h0M355.9 1182.1h0M562.9 978.4h0M372.7 1164.0h0M358.5 1179.9h0M366.8 1169.8h0M628.6 912.0h0M691.5 844.1h0M393.3 1142.9h0M396.6 1142.0h0M660.3 876.4h0M283.8 1253.8h0M420.6 1116.8h0M316.3 1220.9h0M440.0 1100.9h0M657.3 884.2h0M367.3 1170.7h0M552.9 986.4h0M297.8 1240.1h0M700.5 845.4h0M352.7 1185.4h0M405.7 1134.4h0M376.1 1163.9h0M331.7 1207.4h0M677.1 865.5h0M655.5 885.1h0M666.0 880.0h0M606.7 935.6h0M478.3 1058.9h0M296.0 1240.5h0M409.1 1130.2h0M423.1 1115.8h0M445.1 1092.0h0M411.7 1124.3h0M470.3 1068.0h0M314.9 1224.3h0M478.5 1057.6h0M450.1 1091.1h0M602.3 935.5h0M652.5 886.7h0M632.9 904.1h0M559.2 978.0h0M294.0 1244.0h0M574.9 964.2h0M279.3 1255.7h0M231.2 1305.7h0M351.3 1186.6h0M451.9 1087.1h0M390.8 1149.5h0M552.0 983.0h0M568.2 966.3h0M578.9 956.2h0M248.0 1289.3h0M702.8 839.1h0M353.7 1183.1h0M437.5 1096.6h0M480.8 1061.7h0M480.8 1057.7h0M341.0 1195.2h0M617.2 915.0h0M439.2 1096.1h0M232.6 1305.6h0M219.0 1317.6h0M364.8 1172.7h0M398.2 1140.6h0M679.3 859.0h0M309.2 1228.8h0M221.6 1316.3h0M412.8 1122.7h0M648.2 893.3h0M577.5 959.4h0M669.4 871.7h0M344.7 1193.4h0M471.1 1068.3h0M460.9 1078.7h0M470.1 1065.5h0M465.0 1072.9h0M349.8 1188.2h0M271.7 1269.4h0M319.0 1220.3h0M485.3 1052.7h0M374.5 1162.3h0M716.3 817.2h0M435.4 1101.7h0M446.6 1093.3h0M705.7 834.4h0M318.8 1219.5h0M555.6 980.0h0M356.9 1179.0h0M698.0 838.6h0M521.5 1017.1h0M674.2 865.9h0M680.9 855.2h0M333.5 1204.5h0M229.1 1307.8h0M446.7 1089.7h0M651.5 881.4h0M533.8 1003.7h0M257.3 1280.5h0M506.3 1032.4h0M235.0 1302.1h0M390.0 1148.3h0M449.9 1089.9h0M716.2 827.2h0M216.1 1320.1h0M262.2 1275.4h0M286.7 1250.7h0M411.6 1129.5h0M337.3 1201.7h0M303.6 1234.1h0M681.2 859.8h0M399.1 1140.4h0M571.7 966.4h0M712.6 824.2h0M702.3 830.7h0M592.5 941.5h0M482.8 1051.5h0M255.9 1283.8h0M340.7 1195.4h0M364.0 1173.8h0M643.9 897.1h0M645.0 893.4h0M629.8 907.0h0M713.4 823.8h0M232.0 1303.9h0M487.9 1053.6h0M277.7 1259.6h0M637.7 897.5h0M582.1 953.2h0M684.1 854.3h0M352.5 1184.4h0M619.4 917.8h0M425.1 1112.1h0M384.3 1153.7h0M268.7 1269.0h0M609.2 930.0h0M602.9 935.5h0M521.6 1012.5h0M501.2 1037.8h0M257.5 1279.6h0M471.0 1064.7h0M339.7 1199.2h0M635.1 901.2h0M258.6 1277.9h0M485.9 1051.2h0M597.5 942.4h0M544.9 991.9h0M691.2 851.8h0M246.9 1290.9h0M366.0 1170.7h0M230.8 1305.6h0M339.3 1197.9h0M668.6 872.0h0M342.2 1195.3h0M460.9 1073.7h0M687.2 852.5h0M608.5 931.5h0M515.9 1022.1h0M470.1 1069.7h0M288.1 1250.4h0M596.7 939.2h0M627.4 912.5h0M663.4 870.2h0M472.6 1070.3h0M402.9 1136.0h0M443.3 1093.6h0M304.0 1235.2h0M456.3 1080.7h0M540.9 993.9h0M677.7 858.8h0M442.9 1097.3h0M620.5 920.7h0M345.9 1189.9h0M702.5 840.2h0M576.9 960.0h0M700.7 841.4h0M482.6 1058.8h0M386.8 1153.3h0M260.6 1277.5h0M316.7 1222.1h0M679.3 861.2h0M692.4 847.1h0M496.1 1040.2h0M525.8 1008.3h0M397.3 1141.2h0M251.7 1285.7h0M348.6 1188.5h0M476.7 1065.5h0M321.4 1213.3h0M232.8 1303.6h0M646.4 888.1h0M333.8 1203.3h0M307.4 1230.8h0M380.1 1159.5h0M619.8 915.5h0M321.5 1216.6h0M305.6 1230.6h0M471.8 1064.7h0M592.9 943.5h0M574.5 964.5h0M267.5 1270.7h0M404.6 1130.9h0M482.8 1056.9h0M392.0 1146.1h0M639.9 894.7h0M535.3 1003.2h0M268.0 1269.7h0M461.3 1078.6h0M224.3 1312.5h0M650.4 888.2h0M236.4 1300.1h0M383.7 1154.7h0M555.4 985.6h0M225.6 1312.2h0M656.7 883.1h0M584.0 952.1h0M659.7 872.2h0M476.4 1063.0h0M463.9 1073.8h0M391.6 1146.9h0M347.2 1190.3h0M693.2 842.4h0M584.8 953.2h0M594.1 942.5h0M412.4 1123.2h0M494.5 1043.7h0M592.4 949.2h0M286.4 1249.7h0M607.8 932.8h0M391.8 1147.7h0M464.1 1074.2h0M258.1 1279.7h0M682.8 860.7h0M698.4 841.5h0M366.4 1173.1h0M658.6 885.5h0M576.5 960.4h0M475.1 1059.6h0M660.9 883.1h0M612.7 929.4h0M355.3 1182.7h0M314.8 1222.1h0M338.1 1201.2h0M380.8 1157.2h0M300.5 1237.1h0M446.2 1093.5h0M301.0 1236.2h0M461.7 1076.9h0M690.7 848.8h0M667.1 868.4h0M679.2 864.9h0M723.6 813.1h0M462.4 1073.9h0M366.4 1171.3h0M344.7 1190.7h0M589.5 949.6h0M422.3 1115.4h0M327.0 1207.9h0M467.3 1070.2h0M715.4 820.3h0M354.9 1180.6h0M701.5 836.1h0M721.6 823.8h0M246.8 1291.6h0M311.9 1225.2h0M656.2 888.5h0M577.0 961.0h0M557.0 976.7h0M582.5 959.0h0M630.9 908.8h0M409.4 1127.5h0M700.9 842.7h0M244.9 1294.2h0M593.2 944.4h0M236.3 1300.2h0M382.8 1156.0h0M349.0 1188.3h0M300.7 1236.0h0M689.1 854.5h0M537.2 1001.0h0M427.3 1111.6h0M550.2 991.2h0M291.0 1246.4h0M553.9 981.2h0M235.0 1301.3h0M343.2 1194.1h0M225.5 1310.2h0M713.8 818.9h0M283.1 1253.4h0M248.8 1287.3h0M578.8 958.1h0M585.6 953.2h0M365.6 1171.5h0M222.8 1314.6h0M365.8 1167.4h0M674.3 867.6h0M313.4 1224.5h0M723.6 814.3h0M442.1 1098.1h0M614.6 924.3h0M451.9 1082.2h0M356.9 1178.6h0M573.2 967.0h0M648.1 895.1h0M457.0 1080.3h0M662.3 876.5h0M348.5 1190.3h0M663.6 870.2h0M360.8 1178.7h0M663.7 872.4h0M444.6 1095.5h0M506.1 1030.8h0M327.2 1212.3h0M351.1 1184.5h0M347.3 1191.9h0M545.1 992.4h0M644.3 897.8h0M575.2 966.8h0M630.1 909.4h0M689.1 846.8h0M302.3 1234.1h0M598.4 942.9h0M572.2 967.0h0M687.7 853.3h0M460.8 1080.1h0M617.7 922.3h0M478.6 1063.8h0M342.7 1194.3h0M466.3 1070.0h0M541.1 996.1h0M633.2 905.2h0M530.9 1007.0h0M556.6 975.5h0M530.6 1007.5h0M306.5 1232.4h0M710.7 827.0h0M658.0 886.0h0M635.8 902.3h0M338.7 1198.5h0M324.3 1214.3h0M582.9 955.3h0M685.5 851.9h0M674.6 859.2h0M435.1 1102.6h0M339.0 1197.3h0M492.3 1044.8h0M213.7 1323.9h0M644.6 895.3h0M635.8 902.5h0M316.6 1221.1h0M326.4 1208.4h0M304.0 1233.9h0M528.4 1009.4h0M478.3 1061.3h0M450.6 1085.6h0M504.5 1034.4h0M632.4 904.2h0M427.7 1110.0h0M658.4 878.1h0M613.6 922.1h0M678.5 854.6h0M409.0 1125.9h0M261.0 1275.5h0M380.5 1156.8h0M449.3 1087.9h0M697.1 841.1h0M607.6 933.0h0M308.4 1228.8h0M243.8 1292.6h0M697.7 837.0h0M714.2 826.0h0M418.0 1118.6h0M340.8 1196.4h0M617.4 920.1h0M213.8 1323.8h0M325.3 1210.2h0M440.2 1096.0h0M350.9 1187.4h0M384.8 1154.0h0M480.3 1058.2h0M669.3 868.3h0M274.5 1261.8h0M521.6 1012.3h0M422.8 1115.1h0M282.4 1253.8h0M311.3 1224.8h0M516.0 1021.9h0M577.9 961.2h0M596.7 938.2h0M312.3 1224.6h0M487.6 1049.8h0M436.0 1101.3h0M554.9 988.7h0M629.7 909.7h0M553.0 990.3h0M663.0 878.4h0M556.8 985.8h0M649.1 890.4h0M458.3 1079.6h0M621.5 915.6h0M697.7 843.2h0M644.9 888.3h0M323.2 1214.6h0M296.3 1240.6h0M263.1 1274.0h0M695.5 843.0h0M370.0 1168.6h0M320.5 1218.5h0M538.6 1003.1h0M385.6 1151.4h0M452.7 1083.5h0M588.7 948.7h0M306.9 1228.7h0M265.4 1272.3h0M363.2 1173.8h0M462.7 1073.9h0M634.9 899.6h0M263.9 1274.8h0M424.7 1111.1h0M637.8 903.6h0M688.7 846.0h0M290.6 1245.8h0M254.8 1284.1h0M479.4 1059.4h0M336.1 1199.9h0M582.0 960.4h0M544.1 991.6h0M411.9 1125.5h0M539.6 1002.5h0M488.1 1050.8h0M261.8 1276.3h0M535.4 1004.1h0M347.6 1190.8h0M580.3 967.0h0M514.0 1023.5h0M563.3 979.2h0M693.3 840.2h0M446.6 1092.7h0M365.1 1173.2h0M659.1 876.4h0M377.8 1161.3h0M628.1 906.6h0M502.5 1035.9h0M341.2 1195.6h0M352.0 1186.1h0M233.0 1303.7h0M632.9 902.1h0M242.3 1295.0h0M659.9 875.3h0M573.2 964.1h0M251.4 1285.7h0M474.6 1062.4h0M610.3 929.1h0M560.2 975.0h0M239.2 1297.3h0M318.1 1219.3h0M517.8 1019.0h0M514.0 1026.0h0M611.5 926.3h0M297.5 1239.8h0M234.1 1301.8h0M500.7 1036.6h0M216.1 1320.8h0M563.7 969.7h0M263.8 1273.4h0M401.3 1138.7h0M676.5 857.7h0M634.6 900.6h0M275.6 1262.1h0M672.2 860.6h0M558.8 981.4h0M551.2 985.2h0M323.7 1216.3h0M381.9 1154.6h0M403.9 1133.3h0M577.7 963.7h0M217.9 1319.2h0M488.6 1049.3h0M709.6 828.5h0M317.4 1219.7h0M634.4 904.4h0M678.5 857.2h0M335.2 1203.0h0M421.5 1117.7h0M564.4 973.0h0M337.5 1197.7h0M413.7 1121.6h0M302.1 1232.2h0M370.2 1168.8h0M479.2 1056.4h0M442.2 1095.2h0M456.4 1082.0h0M298.8 1239.0h0M444.4 1093.3h0M619.0 921.7h0M617.0 921.7h0M412.2 1125.3h0M485.4 1054.0h0M651.0 892.9h0M435.5 1104.1h0M353.7 1183.0h0M419.9 1117.1h0M390.8 1144.0h0M283.5 1254.3h0M466.8 1073.4h0M439.4 1098.7h0M432.5 1104.2h0M604.9 933.3h0M327.7 1211.0h0M540.0 997.8h0M308.4 1229.0h0M215.7 1323.5h0M674.7 869.3h0M578.3 962.3h0M437.4 1103.6h0M451.5 1086.1h0M493.3 1045.5h0M350.2 1189.6h0M355.1 1184.4h0M265.6 1270.4h0M539.2 1003.1h0M393.4 1143.6h0M476.2 1063.3h0M300.8 1238.1h0M231.6 1303.9h0M423.5 1111.5h0M545.5 994.4h0M666.7 870.2h0M403.5 1135.6h0M534.3 1003.8h0M665.9 874.4h0M598.4 936.6h0M355.2 1184.1h0M383.9 1155.0h0M638.1 903.4h0M319.3 1219.5h0M283.9 1255.5h0M430.8 1103.8h0M538.0 996.5h0M352.5 1184.8h0M697.7 837.5h0M406.0 1133.4h0M548.4 992.4h0M212.9 1321.7h0M216.7 1314.7h0M234.4 1298.3h0M349.0 1196.0h0M387.0 1144.0h0M316.0 1216.0h0"/>
<path stroke="#000000" stroke-opacity="0.66" stroke-width="5.4" stroke-linecap="round" fill="none" d="M536.4 1003.7h0M665.2 876.6h0M215.3 1321.9h0M623.3 913.9h0M534.9 1004.1h0M235.3 1300.5h0M470.0 1067.8h0M340.8 1198.2h0M218.7 1318.2h0M312.3 1224.1h0M642.6 896.7h0M292.6 1245.7h0M668.7 869.9h0M544.0 992.9h0M596.9 942.2h0M399.8 1138.1h0M635.5 901.0h0M526.1 1005.9h0M714.0 817.9h0M324.0 1210.4h0M702.2 830.8h0M507.8 1029.6h0M498.7 1038.7h0M306.1 1229.3h0M507.7 1032.4h0M425.5 1114.3h0M336.7 1200.8h0M666.6 879.0h0M454.9 1083.0h0M379.5 1158.0h0M228.3 1310.1h0M553.4 982.4h0M518.4 1021.9h0M566.8 972.0h0M609.1 927.5h0M635.0 899.8h0M538.2 996.3h0M588.7 947.5h0M315.4 1223.3h0M391.9 1146.0h0M703.8 835.2h0M705.8 835.6h0M479.7 1057.7h0M482.6 1059.2h0M677.1 863.6h0M513.4 1024.7h0M425.9 1110.8h0M248.2 1287.9h0M481.7 1054.1h0M705.3 835.8h0M418.9 1120.8h0M322.9 1212.9h0M371.5 1166.1h0M453.9 1084.8h0M538.0 996.4h0M541.7 999.0h0M425.8 1113.4h0M635.0 901.9h0M590.8 942.7h0M271.2 1268.0h0M667.3 871.6h0M343.5 1194.1h0M341.4 1196.1h0M309.7 1228.0h0M563.8 977.2h0M553.5 984.2h0M311.7 1228.0h0M233.1 1304.1h0M627.9 910.9h0M238.8 1299.0h0M659.6 877.7h0M625.6 905.6h0M609.9 928.7h0M509.8 1031.1h0M540.0 995.7h0M549.8 984.6h0M323.8 1211.1h0M702.1 835.2h0M409.1 1129.1h0M449.1 1088.0h0M265.0 1272.7h0M409.8 1127.9h0M281.9 1256.7h0M642.9 897.9h0M407.8 1129.1h0M405.2 1132.5h0M492.1 1043.6h0M449.6 1087.2h0M352.1 1183.3h0M309.5 1230.2h0M407.1 1131.1h0M580.9 954.9h0M481.4 1058.0h0M677.1 863.0h0M277.7 1257.6h0M546.5 990.0h0M443.0 1095.3h0M408.5 1127.4h0M229.8 1307.8h0M493.6 1041.3h0M413.4 1122.0h0M586.5 954.5h0M410.2 1124.6h0M642.9 896.8h0M581.8 957.8h0M276.5 1261.3h0M510.5 1026.5h0M443.8 1093.4h0M601.4 933.9h0M311.3 1225.6h0M585.5 958.0h0M448.3 1089.0h0M340.3 1198.0h0M416.8 1120.4h0M473.4 1069.0h0M276.4 1262.0h0M463.5 1074.4h0M350.3 1188.2h0M538.2 999.2h0M720.1 820.0h0M320.2 1220.0h0M523.4 1013.0h0M247.0 1291.8h0M335.1 1202.9h0M606.9 935.0h0M579.3 959.2h0M652.8 884.5h0M565.7 975.4h0M292.9 1245.5h0M510.7 1029.4h0M427.6 1110.7h0M220.6 1317.8h0M709.1 830.9h0M585.9 948.5h0M483.7 1054.7h0M591.2 948.1h0M504.2 1035.3h0M233.1 1303.5h0M497.9 1040.7h0M327.7 1209.3h0M448.0 1090.5h0M545.1 989.9h0M417.8 1119.9h0M598.2 941.3h0M444.3 1092.6h0M414.5 1125.9h0M430.5 1109.4h0M307.6 1230.6h0M364.2 1174.8h0M513.8 1025.8h0M703.7 834.6h0M468.4 1072.3h0M250.5 1285.8h0M641.6 896.9h0M641.4 895.7h0M610.4 926.5h0M406.0 1130.2h0M376.6 1160.4h0M566.4 973.4h0M340.1 1196.6h0M539.5 998.6h0M711.0 824.1h0M362.4 1172.9h0M283.5 1252.9h0M465.5 1071.2h0M534.3 1004.7h0M610.3 930.6h0M439.3 1098.7h0M466.1 1066.8h0M286.0 1250.6h0M544.1 992.8h0M297.0 1241.2h0M623.2 912.6h0M691.2 844.4h0M558.8 977.7h0M523.6 1016.2h0M323.4 1212.3h0M271.8 1265.3h0M229.4 1307.0h0M725.4 817.4h0M529.6 1006.2h0M557.6 983.5h0M564.1 972.9h0M478.3 1063.1h0M572.1 968.4h0M653.7 886.4h0M604.0 941.2h0M308.0 1228.8h0M693.4 845.3h0M678.1 852.7h0M654.8 881.4h0M421.5 1114.6h0M214.3 1324.7h0M339.8 1197.1h0M286.4 1251.6h0M568.2 967.1h0M322.6 1215.4h0M699.2 849.3h0M576.5 964.4h0M479.9 1054.5h0M354.7 1183.8h0M538.4 999.3h0M364.4 1171.5h0M605.2 932.7h0M588.2 947.5h0M226.3 1311.6h0M318.7 1219.7h0M658.1 886.0h0M323.7 1211.8h0M595.3 941.8h0M354.0 1184.1h0M247.1 1291.8h0M606.4 937.5h0M455.9 1084.6h0M714.4 829.0h0M378.3 1159.1h0M602.3 937.4h0M466.9 1068.7h0M533.4 1004.7h0M635.9 904.6h0M494.9 1041.8h0M352.5 1186.6h0M265.1 1271.2h0M652.5 881.7h0M684.2 853.2h0M235.5 1301.8h0M384.8 1152.3h0M312.3 1227.0h0M690.1 849.0h0M301.3 1236.6h0M439.3 1097.2h0M601.5 936.0h0M272.9 1264.9h0M219.2 1319.0h0M448.7 1089.1h0M555.4 979.7h0M284.7 1253.6h0M239.7 1295.9h0M324.8 1214.3h0M280.0 1255.7h0M358.1 1178.7h0M603.8 933.5h0M672.2 870.3h0M688.2 852.1h0M373.5 1166.2h0M593.9 941.7h0M288.2 1250.4h0M581.7 961.7h0M458.9 1078.3h0M716.5 823.9h0M573.1 962.8h0M260.6 1275.3h0M384.4 1151.3h0M698.6 841.9h0M450.3 1085.9h0M594.5 946.3h0M564.2 978.9h0M618.4 916.9h0M444.8 1092.6h0M603.2 942.3h0M505.1 1031.5h0M370.0 1169.3h0M406.4 1131.0h0M380.0 1155.9h0M366.1 1171.7h0M512.0 1027.8h0M528.4 1009.1h0M518.2 1018.4h0M292.5 1244.5h0M343.9 1194.4h0M361.1 1177.8h0M386.6 1150.9h0M230.8 1305.8h0M228.6 1308.9h0M579.6 959.3h0M217.5 1319.3h0M339.5 1198.5h0M326.1 1211.2h0M225.8 1313.0h0M277.9 1261.2h0M540.7 998.4h0M532.7 1004.9h0M347.4 1190.2h0M515.0 1023.6h0M705.9 830.5h0M635.9 902.0h0M220.4 1317.3h0M447.0 1092.5h0M230.9 1306.2h0M373.9 1163.0h0M474.3 1063.5h0M473.0 1063.2h0M376.7 1164.1h0M473.7 1061.6h0M262.6 1275.1h0M725.7 812.0h0M438.2 1097.2h0M277.3 1260.9h0M423.7 1115.3h0M590.7 952.0h0M456.7 1080.3h0M242.1 1292.9h0M222.1 1316.2h0M492.4 1046.5h0M473.5 1063.1h0M361.4 1176.0h0M585.6 948.4h0M524.8 1015.4h0M692.3 846.0h0M240.7 1297.4h0M409.0 1127.3h0M394.1 1143.1h0M346.4 1191.4h0M559.4 979.4h0M715.2 818.4h0M317.6 1221.8h0M534.8 1003.8h0M277.8 1259.6h0M279.0 1259.2h0M627.7 907.3h0M286.1 1250.9h0M319.1 1217.4h0M556.9 982.8h0M362.6 1173.5h0M667.1 875.8h0M561.1 980.4h0M261.5 1273.8h0M725.9 813.6h0M709.4 832.4h0M323.1 1212.9h0M519.5 1018.1h0M632.7 906.9h0M503.8 1033.4h0M538.7 998.9h0M660.2 881.9h0M504.6 1033.4h0M432.1 1106.6h0M376.4 1159.8h0M572.8 971.0h0M697.2 849.2h0M250.8 1286.4h0M497.0 1040.3h0M308.7 1228.7h0M697.8 841.4h0M405.4 1132.9h0M274.1 1266.6h0M663.2 877.3h0M550.7 992.7h0M255.5 1281.1h0M478.6 1062.0h0M656.5 886.5h0M722.2 815.9h0M450.8 1087.8h0M611.3 924.6h0M665.2 877.8h0M514.1 1025.2h0M672.8 865.7h0M242.3 1293.4h0M314.6 1222.9h0M518.9 1021.3h0M312.8 1225.0h0M477.8 1063.2h0M257.7 1279.9h0M514.3 1026.3h0M705.5 837.0h0M424.0 1112.7h0M671.8 865.4h0M358.9 1178.0h0M651.6 886.5h0M620.0 919.5h0M369.5 1166.6h0M671.5 868.6h0M364.5 1174.7h0M679.0 865.3h0M697.7 839.2h0M345.3 1191.9h0M413.4 1124.1h0M714.0 829.9h0M648.7 890.7h0M589.5 949.1h0M283.5 1253.3h0M502.6 1033.0h0M703.7 834.1h0M278.1 1260.3h0M673.7 864.2h0M236.6 1299.7h0M221.4 1317.0h0M483.4 1059.0h0M530.9 1008.3h0M725.3 811.8h0M583.0 959.1h0M468.2 1069.1h0M680.1 858.8h0M442.4 1094.2h0M709.9 829.5h0M624.9 914.5h0M316.8 1218.5h0M622.4 915.4h0M631.7 908.1h0M329.2 1205.6h0M258.1 1281.5h0M690.2 850.7h0M242.2 1296.1h0M612.5 929.4h0M409.2 1127.5h0M465.6 1075.6h0M487.5 1050.8h0M450.7 1086.3h0M221.7 1316.7h0M552.9 984.9h0M533.9 1009.0h0M400.1 1137.8h0M468.9 1070.1h0M377.7 1158.4h0M355.2 1185.9h0M513.0 1028.6h0M599.3 941.4h0M364.1 1173.3h0M529.4 1005.0h0M546.6 993.1h0M327.2 1211.5h0M404.5 1137.2h0M535.7 1000.4h0M224.1 1313.1h0M442.4 1092.8h0M625.9 913.9h0M310.3 1228.1h0M598.6 938.9h0M310.6 1225.9h0M452.4 1082.4h0M334.1 1203.9h0M702.3 845.8h0M599.5 944.9h0M573.9 965.4h0M387.6 1147.3h0M293.1 1243.6h0M403.6 1137.6h0M653.8 884.8h0M565.0 975.0h0M722.4 817.7h0M325.4 1211.2h0M475.7 1058.9h0M705.0 829.4h0M331.2 1207.9h0M434.2 1104.3h0M267.6 1269.8h0M490.4 1048.5h0M295.1 1244.5h0M451.5 1086.1h0M218.6 1320.5h0M345.6 1191.6h0M562.8 973.7h0M626.0 913.5h0M468.9 1070.2h0M334.0 1202.8h0M709.8 834.8h0M654.5 878.7h0M574.6 965.0h0M376.1 1164.1h0M251.8 1286.9h0M460.8 1078.3h0M588.2 953.2h0M267.1 1270.3h0M566.5 972.6h0M229.7 1306.3h0M311.4 1225.8h0M214.0 1324.2h0M653.6 881.6h0M624.8 910.6h0M555.2 987.6h0M247.1 1291.0h0M542.9 998.5h0M568.9 965.4h0M584.2 958.2h0M335.2 1202.0h0M245.2 1291.9h0M311.4 1226.9h0M379.3 1158.6h0M223.6 1314.1h0M266.1 1271.7h0M631.1 903.3h0M489.2 1045.1h0M327.4 1208.7h0M379.3 1159.0h0M225.3 1309.9h0M672.5 864.9h0M657.2 878.1h0M626.2 910.3h0M659.5 882.9h0M466.0 1071.7h0M451.5 1088.0h0M349.3 1190.3h0M610.0 931.5h0M285.7 1250.9h0M708.1 838.3h0M713.6 822.6h0M214.0 1323.8h0M355.6 1183.2h0M380.0 1159.6h0M538.5 998.5h0M502.2 1038.7h0M327.9 1210.0h0M384.1 1152.5h0M344.4 1193.6h0M418.2 1121.4h0M600.2 938.3h0M544.7 998.3h0M646.9 888.5h0M312.8 1225.7h0M301.8 1235.7h0M491.8 1044.2h0M593.2 943.7h0M586.6 948.8h0M511.5 1025.2h0M718.8 818.7h0M491.1 1049.0h0M240.2 1296.4h0M299.2 1238.0h0M617.7 920.6h0M606.2 934.8h0M479.2 1059.5h0M576.7 965.0h0M224.8 1312.2h0M351.7 1186.5h0M330.5 1207.8h0M237.0 1298.4h0M591.5 951.8h0M647.1 892.6h0M516.3 1021.6h0M617.4 915.7h0M365.6 1168.7h0M341.2 1196.2h0M337.0 1201.4h0M562.0 977.5h0M654.3 878.6h0M248.1 1289.1h0M259.7 1276.8h0M265.9 1268.5h0M641.4 897.3h0M710.2 829.6h0M381.2 1155.2h0M317.9 1218.7h0M471.2 1068.7h0M252.0 1286.1h0M568.8 969.0h0M404.3 1132.0h0M625.4 913.5h0M381.7 1156.0h0M694.1 846.8h0M394.8 1140.4h0M679.2 858.3h0M557.0 978.6h0M332.8 1204.2h0M389.8 1147.8h0M314.3 1222.9h0M725.2 815.3h0M693.5 845.1h0M519.5 1020.6h0M371.6 1164.6h0M672.4 865.0h0M466.6 1075.9h0M358.1 1180.3h0M389.5 1146.9h0M366.8 1171.8h0M631.7 913.2h0M271.7 1268.2h0M630.5 908.3h0M717.8 823.8h0M580.9 960.5h0M718.9 814.9h0M323.5 1214.4h0M440.0 1096.4h0M585.5 954.0h0M675.9 861.1h0M385.0 1150.8h0M397.7 1139.1h0M617.7 921.6h0M455.4 1080.8h0M544.0 994.0h0M384.2 1152.9h0M488.1 1051.7h0M701.8 835.6h0M491.3 1045.8h0M665.0 874.7h0M385.6 1154.7h0M215.5 1322.4h0M332.5 1206.1h0M433.8 1105.7h0M399.3 1141.2h0M456.0 1084.2h0M431.6 1107.2h0M677.5 860.8h0M568.6 965.5h0M711.0 824.6h0M606.6 926.9h0M524.6 1014.1h0M508.7 1027.3h0M500.0 1035.5h0M681.5 855.1h0M452.8 1085.0h0M363.4 1175.0h0M465.7 1072.5h0M352.5 1187.7h0M369.6 1167.2h0M499.5 1040.8h0M541.6 992.2h0M412.6 1122.9h0M614.7 925.9h0M677.6 863.3h0M278.7 1257.3h0M370.9 1167.2h0M287.8 1250.1h0M685.2 858.2h0M469.6 1067.2h0M296.5 1242.0h0M245.7 1292.7h0M573.3 964.8h0M717.9 815.8h0M626.5 911.2h0M360.0 1177.0h0M485.5 1055.7h0M336.0 1201.5h0M304.4 1235.6h0M367.4 1171.8h0M510.2 1029.9h0M326.6 1212.2h0M654.2 877.1h0M275.8 1261.0h0M246.3 1289.2h0M332.6 1206.4h0M590.2 946.5h0M618.1 924.7h0M636.4 899.4h0M562.1 976.8h0M294.2 1241.0h0M281.6 1254.6h0M461.2 1078.4h0M609.1 929.2h0M374.7 1163.8h0M421.0 1114.7h0M621.8 915.8h0M653.8 888.5h0M214.3 1322.6h0M248.6 1287.3h0M593.4 946.1h0M375.0 1162.9h0M272.2 1264.9h0M547.1 996.4h0M257.7 1279.6h0M609.6 927.9h0M526.8 1011.0h0M315.0 1223.5h0M352.4 1183.5h0M444.8 1090.1h0M597.0 942.0h0M414.6 1122.7h0M615.9 920.9h0M599.0 948.4h0M570.9 966.6h0M278.0 1261.4h0M484.7 1053.1h0M569.7 971.0h0M386.4 1151.2h0M541.9 995.9h0M593.4 947.6h0M305.4 1233.1h0M539.9 997.2h0M406.5 1130.2h0M537.2 1000.5h0M406.8 1132.9h0M724.6 815.0h0M554.1 984.4h0M643.4 896.5h0M277.2 1259.4h0M627.2 906.1h0M510.5 1024.2h0M710.3 821.7h0M400.5 1138.8h0M613.4 921.5h0M688.6 849.8h0M292.9 1244.8h0M490.6 1049.5h0M679.5 863.9h0M307.8 1230.2h0M509.6 1034.4h0M357.5 1183.3h0M263.6 1272.8h0M223.8 1313.1h0M524.9 1013.9h0M238.3 1299.4h0M364.9 1172.2h0M653.1 883.7h0M608.5 931.1h0M329.3 1209.4h0M494.3 1045.7h0M395.2 1143.7h0M341.0 1198.2h0M238.4 1299.4h0M216.8 1322.1h0M621.3 917.1h0M579.3 960.6h0M593.2 950.3h0M509.2 1026.3h0M267.2 1269.9h0M487.4 1048.9h0M269.8 1265.6h0M310.9 1226.7h0M608.5 930.7h0M387.0 1149.9h0M600.2 932.9h0M250.0 1288.0h0M256.1 1280.4h0M529.5 1010.4h0M489.0 1046.8h0M259.4 1277.5h0M600.3 937.5h0M262.1 1274.7h0M468.5 1071.0h0M502.7 1037.4h0M711.4 827.9h0M565.9 970.9h0M386.8 1151.6h0M655.7 890.2h0M366.5 1169.6h0M722.6 822.1h0M432.2 1105.5h0M542.2 999.1h0M328.4 1211.1h0M266.5 1271.4h0M327.2 1210.9h0M470.8 1065.5h0M334.9 1202.0h0M697.1 839.2h0M549.6 991.7h0M223.2 1314.3h0M607.0 931.7h0M488.7 1047.8h0M583.3 955.4h0M573.8 958.7h0M616.7 921.8h0M531.6 1004.3h0M651.3 884.7h0M306.8 1232.9h0M606.5 933.6h0M328.3 1209.0h0M445.0 1092.8h0M352.0 1187.5h0M720.9 818.0h0M407.4 1134.9h0M658.3 881.0h0M396.1 1141.8h0M696.2 840.8h0M365.8 1170.2h0M609.7 926.1h0M292.0 1244.9h0M335.4 1201.9h0M316.6 1221.6h0M520.7 1016.4h0M678.3 857.5h0M425.3 1115.8h0M620.9 912.3h0M688.9 855.0h0M665.7 871.3h0M410.2 1126.9h0M350.7 1186.8h0M264.6 1271.6h0M284.1 1252.1h0M504.4 1031.5h0M497.7 1040.6h0M275.2 1261.9h0M497.4 1042.8h0M563.9 975.6h0M457.1 1077.8h0M325.1 1212.5h0M559.0 980.1h0M653.8 886.1h0M631.1 909.1h0M409.4 1131.9h0M486.2 1047.2h0M674.2 863.3h0M352.0 1186.1h0M228.2 1308.6h0M527.1 1011.4h0M418.4 1121.6h0M630.5 913.4h0M245.7 1292.1h0M668.5 868.1h0M697.4 842.6h0M546.0 996.1h0M690.2 848.9h0M526.5 1010.2h0M396.8 1141.6h0M434.2 1102.4h0M475.6 1060.3h0M228.7 1308.1h0M416.5 1120.0h0M407.5 1130.9h0M650.0 888.7h0M702.7 835.1h0M218.1 1320.9h0M527.4 1010.2h0M560.0 981.4h0M348.5 1192.0h0M539.7 998.3h0M604.6 936.0h0M223.2 1314.4h0M271.0 1268.2h0M581.2 956.8h0M667.1 874.1h0M538.4 997.9h0M558.5 979.8h0M572.3 965.6h0M347.3 1190.4h0M322.6 1214.9h0M340.4 1199.3h0M516.3 1023.0h0M655.4 879.3h0M670.7 867.5h0M534.9 1007.9h0M430.6 1108.8h0M533.5 1006.8h0M608.7 929.3h0M361.4 1177.7h0M636.1 907.3h0M353.6 1181.9h0M431.6 1103.1h0M238.0 1300.1h0M537.3 997.6h0M704.6 835.8h0M676.5 855.7h0M475.9 1060.0h0M333.7 1204.1h0M481.2 1057.8h0M454.5 1084.5h0M671.7 867.9h0M238.9 1299.6h0M235.4 1301.5h0M291.7 1245.8h0M461.2 1075.4h0M530.6 1009.1h0M545.5 993.0h0M444.3 1089.2h0M496.7 1040.1h0M229.6 1307.2h0M711.0 832.5h0M226.8 1311.7h0M592.9 938.9h0M578.8 959.6h0M404.3 1133.2h0M683.9 856.2h0M232.4 1305.6h0M375.1 1159.5h0M650.3 886.6h0M350.6 1190.0h0M450.5 1086.8h0M635.4 904.6h0M344.0 1194.2h0M484.6 1049.2h0M667.7 872.1h0M389.8 1149.9h0M276.7 1260.3h0M481.4 1055.8h0M270.2 1267.3h0M275.8 1263.5h0M552.6 988.3h0M561.2 981.7h0M585.7 951.9h0M498.9 1034.5h0M254.8 1282.0h0M322.3 1215.2h0M347.4 1190.5h0M443.2 1094.9h0M354.3 1183.9h0M440.5 1096.0h0M571.4 967.5h0M720.6 819.9h0M497.8 1044.4h0M526.3 1012.1h0M583.3 958.4h0M405.3 1133.6h0M455.7 1082.6h0M425.8 1113.6h0M387.6 1150.7h0M436.1 1099.2h0M641.6 893.3h0M717.4 832.8h0M214.5 1321.0h0M565.0 971.7h0M315.3 1224.4h0M334.6 1199.6h0M377.4 1158.3h0M684.3 853.9h0M466.3 1069.8h0M467.2 1070.7h0M379.6 1157.5h0M665.0 873.4h0M649.4 893.9h0M698.5 842.2h0M242.1 1295.0h0M247.8 1289.6h0M616.3 921.7h0M516.9 1019.3h0M418.0 1119.6h0M351.7 1185.3h0M352.9 1184.9h0M266.0 1271.4h0M499.6 1038.4h0M669.8 872.5h0M629.6 910.7h0M443.7 1093.3h0M329.1 1208.8h0M716.3 821.1h0M288.4 1249.5h0M481.3 1055.4h0M441.3 1094.8h0M409.2 1127.1h0M703.1 834.4h0M658.0 879.9h0M419.9 1119.7h0M238.5 1299.9h0M325.3 1212.1h0M535.3 1002.7h0M468.8 1069.3h0M354.5 1184.5h0M667.9 874.9h0M392.4 1145.0h0M313.4 1222.6h0M325.0 1209.8h0M364.4 1171.5h0M239.3 1299.4h0M407.0 1131.2h0M262.2 1275.3h0M438.1 1097.3h0M286.8 1252.5h0M257.7 1280.0h0M719.8 817.6h0M679.9 860.2h0M524.1 1015.0h0M336.2 1201.2h0M403.8 1132.5h0M695.0 852.3h0M550.3 988.3h0M426.4 1109.4h0M640.0 901.7h0M366.5 1173.9h0M488.7 1050.3h0M594.8 942.3h0M459.6 1080.1h0M316.7 1220.4h0M484.2 1051.2h0M236.6 1301.0h0M459.7 1077.7h0M486.9 1048.6h0M307.7 1230.1h0M378.8 1158.2h0M686.8 850.9h0M344.2 1194.4h0M515.2 1024.8h0M587.7 950.7h0M466.2 1073.9h0M371.6 1167.4h0M441.2 1096.3h0M691.6 844.1h0M706.3 841.3h0M521.0 1018.1h0M514.6 1022.4h0M249.3 1288.6h0M408.3 1129.8h0M716.9 816.8h0M274.9 1263.7h0M706.4 831.9h0M434.0 1106.2h0M432.2 1102.7h0M355.7 1180.5h0M437.7 1099.7h0M258.3 1279.0h0M468.7 1069.3h0M269.1 1268.9h0M584.8 955.4h0M725.5 818.3h0M495.5 1042.7h0M218.0 1320.3h0M527.1 1012.2h0M330.6 1206.5h0M499.1 1037.3h0M270.4 1266.7h0M716.3 822.0h0M684.3 857.4h0M539.1 998.0h0M375.8 1161.7h0M680.5 859.6h0M502.2 1037.2h0M718.7 824.1h0M395.2 1141.9h0M589.0 951.1h0M601.8 935.9h0M463.7 1075.9h0M684.2 851.9h0M373.1 1163.0h0M223.0 1314.7h0M695.9 848.6h0M411.2 1129.7h0M592.0 939.8h0M520.0 1014.5h0M667.9 871.3h0M400.1 1139.1h0M242.4 1294.7h0M357.5 1179.7h0M686.9 848.9h0M686.6 853.9h0M590.9 952.0h0M525.2 1012.2h0M221.0 1315.3h0M256.9 1280.4h0M670.2 865.1h0M432.3 1108.9h0M318.1 1218.5h0M412.6 1125.5h0M383.6 1158.1h0M672.0 863.9h0M669.6 867.3h0M640.9 895.8h0M273.2 1264.2h0M308.8 1228.1h0M716.7 823.4h0M624.2 917.4h0M421.5 1115.1h0M220.4 1310.0h0M226.0 1300.7h0M245.6 1289.0h0M563.0 959.0h0M601.0 923.0h0"/>
<path d="M189.00 1348.17L723.00 815.82" stroke="#7a7a7a" stroke-width="1.0" stroke-dasharray="3.85 1.66" fill="none"/>
</g>
<rect x="189" y="814" width="534" height="535" fill="none" stroke="#cccccc" stroke-width="4.1667"/>
<rect x="207.50" y="833.50" width="274.00" height="65.00" rx="7.33" ry="7.33" fill="#ffffff" fill-opacity="0.8" stroke="#cccccc" stroke-opacity="0.8" stroke-width="3.333"/>
<circle cx="259.50" cy="866.50" r="2.1" fill="#444444" stroke="#000000" stroke-width="0.9"/>
<g font-family="Liberation Sans, sans-serif" fill="#262626">
<text x="325.03" y="875.80" font-size="38.50" textLength="141.11" lengthAdjust="spacingAndGlyphs">training</text>
<text x="249.02" y="1401.70" font-size="26.25" textLength="59.20" lengthAdjust="spacingAndGlyphs">−6.8</text>
<text x="346.32" y="1401.70" font-size="26.25" textLength="59.33" lengthAdjust="spacingAndGlyphs">−6.6</text>
<text x="443.63" y="1401.70" font-size="26.25" textLength="59.06" lengthAdjust="spacingAndGlyphs">−6.4</text>
<text x="540.94" y="1401.70" font-size="26.25" textLength="58.58" lengthAdjust="spacingAndGlyphs">−6.2</text>
<text x="638.22" y="1401.70" font-size="26.25" textLength="59.11" lengthAdjust="spacingAndGlyphs">−6.0</text>
<text x="94.84" y="1269.50" font-size="26.25" textLength="59.20" lengthAdjust="spacingAndGlyphs">−6.8</text>
<text x="94.84" y="1172.50" font-size="26.25" textLength="59.33" lengthAdjust="spacingAndGlyphs">−6.6</text>
<text x="94.84" y="1075.50" font-size="26.25" textLength="59.06" lengthAdjust="spacingAndGlyphs">−6.4</text>
<text x="94.85" y="978.50" font-size="26.25" textLength="58.58" lengthAdjust="spacingAndGlyphs">−6.2</text>
<text x="94.84" y="881.50" font-size="26.25" textLength="59.11" lengthAdjust="spacingAndGlyphs">−6.0</text>
<text x="271.76" y="1450.25" font-size="35.00" textLength="368.10" lengthAdjust="spacingAndGlyphs">DFT energy (eV/atom)</text>
<text x="-115.99" y="1083.30" font-size="35.00" textLength="370.91" lengthAdjust="spacingAndGlyphs" transform="rotate(-90 69.65 1083.30)">MLP energy (eV/atom)</text>
</g>
<clipPath id="c4"><rect x="917" y="814" width="534" height="535"/></clipPath>
<g stroke="#cccccc" stroke-width="3.333" fill="none" stroke-dasharray="12.333 5.333">
<path d="M1006.5 1349.30V814.00"/>
<path d="M1103.5 1349.30V814.00"/>
<path d="M1200.5 1349.30V814.00"/>
<path d="M1298.5 1349.30V814.00"/>
<path d="M1395.5 1349.30V814.00"/>
<path d="M917.40 1259.5H1451.00"/>
<path d="M917.40 1162.5H1451.00"/>
<path d="M917.40 1065.5H1451.00"/>
<path d="M917.40 968.5H1451.00"/>
<path d="M917.40 871.5H1451.00"/>
</g>
<g clip-path="url(#c4)">
<path stroke="#ff4500" stroke-opacity="0.66" stroke-width="5.4" stroke-linecap="round" fill="none" d="M1085.8 1177.8h0M1307.0 957.8h0M1267.9 1001.5h0M1157.6 1109.1h0M1142.0 1125.0h0M1238.9 1027.6h0M1272.1 995.3h0M1177.8 1086.3h0M1206.6 1055.6h0M1449.8 818.1h0M1237.7 1027.2h0M1407.5 858.8h0M1206.1 1059.1h0M1178.7 1087.9h0M1410.4 857.7h0M1171.8 1091.5h0M1033.2 1231.1h0M995.9 1267.5h0M1407.8 853.4h0M1246.5 1020.1h0M1250.5 1019.1h0M1378.0 886.5h0M1328.5 938.1h0M1019.5 1245.1h0M1149.2 1117.3h0M945.6 1320.0h0M1087.2 1175.9h0M1317.0 949.0h0M1371.9 897.0h0M1281.9 982.1h0M999.7 1262.9h0M1096.9 1168.1h0M1209.5 1057.2h0M1437.2 829.3h0M1050.5 1215.4h0M971.4 1293.1h0M1022.5 1244.0h0M1115.3 1149.3h0M1033.4 1231.3h0M955.5 1309.8h0M1072.1 1193.7h0M1366.5 901.1h0M1150.3 1115.8h0M1346.1 918.5h0M953.1 1309.0h0M1384.1 886.5h0M1160.7 1105.0h0M1080.1 1186.2h0M1236.9 1029.8h0M1061.2 1206.5h0M1198.3 1069.8h0M1437.9 831.1h0M1152.5 1111.0h0M1339.8 929.8h0M1111.5 1152.9h0M1291.4 971.2h0M1053.1 1212.1h0M1243.6 1021.2h0M1408.4 858.3h0M985.9 1279.7h0M994.2 1272.1h0M978.3 1283.6h0M1385.3 877.6h0M1345.5 923.1h0M1372.9 891.2h0M955.9 1311.5h0M1261.9 1002.7h0M1137.0 1128.9h0M1099.0 1166.1h0M1090.4 1178.2h0M947.5 1317.9h0M1326.7 939.3h0M1114.3 1150.0h0M960.5 1304.1h0M1059.5 1203.4h0M1433.6 831.0h0M1353.8 912.1h0M1250.7 1018.0h0M1273.5 988.7h0M1240.4 1029.1h0M1022.7 1239.8h0M1423.5 842.7h0M1163.4 1100.7h0M1013.9 1252.8h0M1050.3 1216.3h0M1096.7 1168.6h0M1140.3 1125.9h0M1119.1 1148.5h0M1270.0 995.6h0M1023.5 1241.5h0M1384.1 882.3h0M1199.2 1068.1h0M1164.2 1101.4h0M1014.3 1252.0h0M1351.1 916.3h0M1180.4 1081.3h0M1186.5 1078.8h0M1237.7 1027.0h0M1191.0 1076.4h0M1087.2 1180.4h0M1411.9 855.6h0M1263.0 1001.5h0M1383.9 882.5h0M1159.2 1104.4h0M1175.7 1092.1h0M1408.0 861.8h0M1238.2 1026.0h0M1131.0 1136.6h0M1295.9 965.1h0M1288.0 975.0h0M1356.4 906.8h0M1290.1 975.6h0M1105.7 1157.5h0M1076.4 1188.2h0M1247.4 1021.1h0M1384.6 877.2h0M1269.8 999.0h0M1125.0 1142.2h0M1383.2 882.4h0M1275.6 990.9h0M1122.4 1144.4h0M1386.3 878.5h0M1177.5 1087.4h0M1046.8 1220.5h0M1050.3 1214.0h0M998.3 1267.2h0M1169.6 1089.3h0M1278.1 987.6h0M998.4 1267.0h0M1225.5 1042.6h0M1438.5 832.4h0M1393.6 872.6h0M1095.4 1167.4h0M1000.9 1266.3h0M1309.0 955.4h0M1413.1 853.5h0M1448.6 814.4h0M1121.7 1145.3h0M1310.2 956.5h0M1438.3 827.8h0M1067.7 1198.2h0M1015.8 1248.3h0M1237.3 1029.0h0M1402.1 861.3h0M1155.5 1109.5h0M1427.5 843.3h0M1417.7 846.1h0M1228.9 1035.8h0M1420.6 849.2h0M1011.1 1257.1h0M987.2 1279.8h0M1202.6 1061.7h0M966.6 1296.1h0M1160.7 1103.2h0M1168.4 1097.7h0M1418.4 847.6h0M1109.1 1155.1h0M1264.9 1003.0h0M1338.6 925.4h0M1249.9 1016.2h0M1447.4 820.5h0M1266.7 991.1h0M1414.1 851.6h0M1422.5 846.0h0M1044.2 1222.6h0M1160.4 1104.8h0M1383.0 881.6h0M1057.0 1208.3h0M1005.7 1261.2h0M1163.0 1101.8h0M1193.8 1073.1h0M1216.8 1049.3h0M1002.1 1264.4h0M988.8 1278.9h0M1070.7 1193.3h0M1284.6 978.0h0M1379.6 884.2h0M1302.1 960.3h0M1370.6 892.7h0M1146.9 1119.0h0M1014.0 1251.1h0M1003.1 1262.4h0M983.2 1284.1h0M1350.4 920.7h0M1134.3 1132.0h0M1276.7 986.1h0M1073.7 1194.0h0M1295.0 967.2h0M1119.6 1142.5h0M1244.0 1021.3h0M1444.2 821.4h0M1230.3 1035.1h0M1419.5 843.8h0M1209.8 1053.3h0M1434.8 833.1h0M1141.3 1125.2h0M1306.1 959.3h0M1368.3 898.1h0M1364.8 900.4h0M1028.3 1234.4h0M977.1 1289.4h0M998.6 1269.2h0M1288.3 975.8h0M1259.9 1007.9h0M1384.9 881.7h0M1130.7 1132.7h0M1274.7 992.2h0M1000.4 1264.2h0M1361.9 901.4h0M1426.2 837.8h0M1248.9 1011.6h0M1425.0 843.3h0M1121.8 1142.7h0M1060.3 1207.7h0M1413.8 850.8h0M1373.4 891.3h0M1294.3 967.2h0M1172.8 1096.4h0M1227.4 1039.0h0M1136.3 1130.7h0M1358.9 907.5h0M1339.8 928.9h0M1253.1 1013.4h0M1399.8 866.3h0M1229.8 1035.8h0M1373.8 890.9h0M1402.9 867.4h0M1445.2 822.1h0M1093.1 1170.0h0M1158.1 1109.8h0M1374.2 890.5h0M948.9 1317.2h0M968.7 1295.7h0M1251.8 1019.1h0M1219.0 1047.3h0M1329.2 936.0h0M1005.2 1260.8h0M1144.4 1121.4h0M1330.4 937.3h0M1099.4 1164.1h0M1429.6 839.1h0M996.6 1269.1h0M1361.1 903.9h0M1208.7 1059.7h0M1359.1 908.1h0M1317.3 950.3h0M1156.3 1107.8h0M1368.9 901.0h0M1022.3 1244.1h0M1218.6 1044.3h0M1128.7 1133.6h0M1091.6 1173.9h0M1373.4 896.4h0M1367.3 897.8h0M1257.5 1008.1h0M1272.7 994.0h0M1159.8 1105.1h0M1223.6 1041.2h0M1282.2 982.1h0M1378.2 887.6h0M1260.4 1007.4h0M967.5 1298.1h0M1009.5 1254.8h0M1238.5 1025.3h0"/>
<path stroke="#ff4500" stroke-opacity="0.66" stroke-width="5.4" stroke-linecap="round" fill="none" d="M1232.7 1034.9h0M1046.2 1221.0h0M964.0 1301.1h0M1352.7 909.5h0M966.8 1298.8h0M1365.3 898.0h0M1101.4 1160.1h0M1195.5 1068.2h0M1195.4 1068.4h0M1249.6 1017.1h0M1130.2 1134.0h0M1119.8 1146.2h0M1193.2 1071.4h0M1062.3 1202.0h0M1103.4 1160.4h0M1130.4 1135.9h0M1173.6 1091.5h0M966.0 1300.5h0M1270.1 995.1h0M984.7 1280.6h0M1132.0 1131.5h0M1248.3 1015.2h0M1030.4 1231.0h0M1435.2 829.9h0M1140.5 1123.8h0M1323.7 942.1h0M1038.1 1230.2h0M1160.0 1103.2h0M1039.9 1226.0h0M987.8 1276.0h0M969.6 1295.2h0M1370.8 896.3h0M1435.0 832.6h0M1091.7 1174.7h0M1256.1 1008.0h0M1039.0 1224.8h0M1248.0 1017.2h0M1311.5 955.2h0M1296.4 965.5h0M1255.9 1011.8h0M1100.5 1165.1h0M1140.6 1126.6h0M1215.3 1051.5h0M1350.0 917.2h0M1310.6 959.0h0M1043.2 1221.1h0M1079.6 1183.4h0M1137.6 1128.3h0M1404.9 858.2h0M1406.8 857.7h0M1413.0 850.1h0M950.5 1312.2h0M1120.5 1141.7h0M1104.9 1159.1h0M1127.2 1137.1h0M1196.3 1072.0h0M1189.2 1079.3h0M1358.4 908.0h0M1059.3 1205.1h0M1200.4 1063.9h0M1168.9 1096.6h0M1012.7 1252.2h0M1065.0 1199.2h0M1163.7 1102.3h0M1321.8 944.8h0M1405.6 861.8h0M989.1 1275.8h0M952.3 1311.3h0M1386.1 882.0h0M1193.1 1074.6h0M1244.6 1022.3h0M1368.8 896.7h0M1136.6 1127.2h0M1282.7 982.0h0M1170.2 1094.5h0M1385.0 880.8h0M949.3 1313.9h0M1297.2 971.3h0M1339.6 928.2h0M1235.9 1032.2h0M990.5 1273.8h0M991.5 1271.6h0M1306.3 958.3h0M1138.5 1124.6h0M1184.5 1080.5h0M1197.1 1066.4h0M949.4 1316.8h0M1039.4 1225.0h0M1016.0 1249.0h0M1428.1 834.5h0M1185.4 1078.6h0M1401.3 868.0h0M1063.0 1202.0h0M1182.7 1086.4h0M1074.2 1190.3h0M1308.0 958.7h0M1145.7 1121.7h0M1448.3 816.6h0M1349.3 918.3h0M1412.5 852.6h0M1292.2 976.7h0M1107.3 1159.7h0M1045.5 1220.2h0M1345.1 921.3h0M1315.4 947.7h0M1184.0 1080.2h0M949.8 1315.2h0M1317.9 951.5h0M1316.9 950.5h0M1449.1 817.6h0M1201.1 1062.1h0M1316.7 950.2h0M1065.9 1198.1h0M1016.0 1248.2h0M1064.7 1200.5h0M999.7 1265.5h0M1030.3 1234.5h0M949.1 1316.6h0M1057.3 1206.0h0M1277.2 989.5h0M1205.7 1060.8h0M1057.2 1206.8h0M947.5 1318.4h0M1108.0 1156.3h0M1017.4 1247.3h0M971.5 1292.2h0M1140.1 1125.7h0M1172.4 1096.6h0M1435.0 833.9h0M1059.1 1207.2h0M1421.8 843.8h0M1266.7 994.2h0M1395.3 876.0h0M1378.0 888.6h0M1284.0 982.9h0M942.7 1320.8h0M1410.0 854.9h0M1303.0 958.8h0M961.4 1300.4h0M1397.0 869.8h0M1138.7 1124.8h0M1033.7 1228.7h0M1214.2 1053.1h0M1233.4 1032.8h0M1264.3 1000.5h0M1179.3 1089.2h0M1339.0 925.8h0M1089.3 1173.4h0M1237.2 1029.9h0M1428.5 837.1h0M971.7 1293.3h0M1004.3 1263.0h0M1186.7 1080.1h0M1190.7 1072.9h0M1415.2 853.5h0M1275.9 990.0h0M1301.6 964.6h0M999.7 1263.2h0M965.7 1299.5h0M1116.4 1147.5h0M1129.8 1133.8h0M1166.7 1097.5h0M1019.0 1244.9h0M1168.8 1095.9h0M1057.9 1206.3h0M1209.0 1057.5h0M1015.9 1250.0h0M1024.1 1237.1h0M1418.3 847.5h0M1374.6 892.1h0M1040.5 1225.0h0M1000.2 1263.1h0M1314.1 953.3h0M1225.9 1040.6h0M983.8 1281.9h0M1321.6 944.9h0M1009.9 1259.1h0M1406.5 860.4h0M1141.3 1122.0h0M1241.0 1023.8h0M964.6 1301.0h0M1278.0 990.0h0M1381.0 885.5h0M1066.3 1195.6h0M1103.3 1161.4h0M1135.9 1130.2h0M966.2 1298.4h0M949.3 1315.0h0M1315.8 950.6h0M1354.7 914.6h0M1138.0 1128.2h0M1125.6 1140.2h0M1042.7 1225.0h0M1315.6 952.1h0M1341.3 921.4h0M1107.4 1157.7h0M1394.1 870.6h0M1257.6 1005.1h0M1181.8 1083.5h0M1215.1 1052.5h0M1414.9 846.1h0M1400.0 869.0h0M1077.9 1190.1h0M1285.3 983.2h0M1121.3 1142.6h0M1289.4 976.3h0M1019.4 1244.0h0M1441.2 828.3h0M965.7 1298.5h0M1157.2 1106.4h0M1364.8 903.3h0M1303.4 957.0h0M1209.2 1056.6h0M1143.7 1122.1h0M1170.7 1094.1h0M1192.2 1072.7h0M992.6 1269.2h0M1169.6 1095.9h0M1387.4 877.0h0M1340.4 926.3h0M1240.4 1024.9h0M957.4 1308.6h0M1276.4 988.3h0M1380.1 885.0h0M1203.4 1062.8h0M960.3 1305.0h0M1201.3 1065.1h0M1389.7 878.4h0M1323.0 945.4h0M1093.0 1172.8h0M1346.7 920.2h0M1098.5 1166.8h0M1288.5 978.0h0M1195.8 1068.1h0M1139.9 1123.6h0M1350.4 915.4h0M1424.1 842.9h0M1081.0 1184.7h0M1368.8 895.2h0M967.0 1297.7h0M1289.2 978.4h0M1294.3 970.5h0M1108.0 1155.5h0M1321.8 943.9h0"/>
<path stroke="#ff4500" stroke-opacity="0.66" stroke-width="5.4" stroke-linecap="round" fill="none" d="M955.8 1309.2h0M1095.9 1168.9h0M1373.7 892.9h0M1416.3 853.6h0M1381.2 889.4h0M1157.9 1105.2h0M1192.7 1072.4h0M1154.5 1112.2h0M1425.6 840.6h0M1119.0 1145.9h0M981.9 1282.0h0M1304.6 964.5h0M1066.1 1199.1h0M963.3 1300.2h0M1302.7 960.9h0M1246.6 1017.3h0M1080.3 1185.8h0M1076.3 1186.8h0M1296.9 968.7h0M974.2 1290.1h0M960.4 1304.3h0M1423.0 843.7h0M1040.9 1225.4h0M1122.9 1142.8h0M972.4 1292.0h0M1055.9 1210.1h0M1081.8 1183.2h0M1307.1 961.2h0M1032.4 1231.3h0M1346.0 922.4h0M1423.8 843.0h0M1353.1 912.4h0M956.0 1310.1h0M1107.6 1158.6h0M1332.0 932.3h0M1133.9 1133.7h0M1356.6 909.0h0M1064.4 1201.4h0M970.6 1293.3h0M1408.7 860.7h0M1151.8 1114.1h0M1346.7 920.8h0M948.8 1314.3h0M989.8 1274.3h0M1340.9 923.7h0M1070.9 1198.7h0M1150.7 1115.3h0M1320.5 943.9h0M1334.4 931.3h0M1420.7 842.8h0M1089.8 1174.2h0M1233.8 1032.3h0M1311.5 957.2h0M1441.2 823.7h0M986.5 1280.1h0M1366.4 901.4h0M993.6 1272.3h0M1225.2 1040.3h0M1314.1 954.8h0M964.8 1300.7h0M1035.1 1226.0h0M1252.5 1016.0h0M1334.3 928.9h0M990.8 1274.1h0M1377.8 891.7h0M1055.8 1207.6h0M1373.7 892.2h0M1034.3 1231.0h0M1393.8 877.1h0M1333.6 932.6h0M1026.5 1238.6h0M1210.6 1052.8h0M992.5 1271.8h0M1070.9 1196.3h0M1382.8 887.4h0M1272.1 994.2h0M1279.0 985.6h0M1331.2 930.7h0M1155.1 1111.4h0M1199.8 1066.4h0M1313.6 952.8h0M1289.7 977.9h0M1027.6 1237.3h0M1057.0 1208.7h0M1127.5 1135.8h0M1180.0 1084.5h0M1208.1 1056.2h0M1027.1 1237.9h0M1014.6 1247.9h0M1314.2 953.2h0M1216.8 1046.2h0M1386.2 878.8h0M1248.7 1018.0h0M1338.8 927.0h0M1053.8 1210.9h0M1078.5 1185.9h0M1326.6 941.6h0M983.1 1279.9h0M1070.8 1194.1h0M1101.4 1163.5h0M1061.3 1204.3h0M1436.1 830.6h0M1323.1 938.8h0M1308.0 959.4h0M1055.7 1211.4h0M1256.3 1010.4h0M1053.7 1211.8h0M1039.1 1225.3h0M1170.6 1096.0h0M1433.5 833.2h0M1392.8 875.4h0M1233.8 1031.1h0M997.8 1264.6h0M1213.4 1050.7h0M992.8 1272.2h0M1234.8 1032.3h0M989.1 1276.2h0M1167.7 1100.1h0M970.1 1293.7h0M1399.0 863.3h0M1228.6 1034.7h0M1087.2 1175.8h0M1441.9 824.4h0M1212.1 1053.6h0M1019.1 1246.2h0M1054.0 1211.0h0M998.7 1266.9h0M1211.5 1051.6h0M1226.1 1041.2h0M1337.3 925.9h0M1042.2 1223.9h0M1378.1 890.8h0M1189.7 1076.0h0M1382.0 888.0h0M1420.1 852.8h0M1032.4 1233.3h0M1204.9 1059.2h0M1338.5 927.8h0M1068.7 1194.3h0M1372.1 893.7h0M1282.0 983.8h0M960.0 1304.4h0M997.1 1266.0h0M1334.0 931.6h0M1392.1 869.7h0M1237.6 1025.5h0M1120.2 1144.5h0M1042.6 1223.6h0M1137.4 1128.2h0M1237.3 1028.8h0M1250.6 1016.6h0M1439.3 824.9h0M1065.3 1202.0h0M1080.5 1187.4h0M1231.6 1035.2h0M1152.4 1114.0h0M1229.2 1033.8h0M1183.8 1085.3h0M1109.1 1156.1h0M1406.8 858.7h0M973.8 1289.5h0M1323.0 942.0h0M1237.2 1026.8h0M1096.6 1168.5h0M1226.5 1038.1h0M956.4 1308.0h0M1036.0 1228.9h0M1396.5 870.1h0M1203.4 1064.5h0M952.1 1314.6h0M1055.5 1209.7h0M1094.0 1172.2h0M1161.7 1103.6h0M1235.5 1029.5h0M1190.8 1072.2h0M1156.4 1107.3h0M1378.1 883.7h0M1341.5 928.0h0M1242.9 1025.9h0M972.8 1289.4h0M1373.7 890.0h0M1114.6 1150.1h0M1059.5 1204.0h0M1176.9 1085.2h0M952.7 1311.0h0M1046.9 1217.1h0M1391.7 875.0h0M1298.0 966.5h0M1068.0 1197.9h0M1413.0 853.5h0M1358.2 910.2h0M1419.0 849.4h0M1025.9 1239.7h0M1073.7 1191.7h0M1296.2 964.1h0M955.6 1308.4h0M1359.8 905.9h0M1423.0 840.8h0M1053.4 1212.6h0M1402.2 860.1h0M1379.5 886.9h0M1270.7 992.7h0M1217.9 1045.8h0M1223.0 1042.6h0M1235.2 1030.1h0M1303.4 963.6h0M994.0 1272.8h0M966.6 1295.9h0M1407.6 863.0h0M1342.3 922.8h0M1442.1 820.7h0M1171.4 1092.1h0M1269.1 999.4h0M1295.4 974.2h0M1136.0 1128.9h0M958.1 1307.4h0M1304.8 958.4h0M1377.1 889.3h0M1106.3 1162.1h0M1098.2 1165.5h0M1341.3 926.3h0M1004.5 1261.4h0M1388.3 877.7h0M1185.2 1079.0h0M1186.5 1079.0h0M1034.5 1228.6h0M1283.7 980.8h0M1402.4 862.6h0M1113.5 1149.1h0M1130.8 1131.6h0M1202.7 1063.4h0M1235.5 1034.0h0M1356.8 909.7h0M1211.1 1055.0h0M1139.8 1126.7h0M1314.7 953.3h0M1248.4 1017.4h0M999.1 1264.4h0M1321.6 944.1h0M1195.2 1070.3h0M1297.0 969.4h0M1044.4 1219.6h0M1292.7 973.3h0M1352.0 910.3h0M1223.1 1043.3h0M949.7 1315.9h0M1090.6 1175.0h0M976.7 1290.3h0M1015.9 1249.3h0M1092.3 1170.9h0M983.2 1281.3h0M1351.2 917.7h0M1023.4 1243.1h0M1313.5 953.6h0M1028.0 1239.2h0M1016.7 1247.1h0M1177.4 1085.7h0M1069.9 1193.9h0M1116.6 1147.8h0M1130.8 1133.0h0M1365.1 898.3h0M1164.2 1101.0h0M1012.1 1251.1h0M1136.1 1126.5h0M1405.2 862.1h0M1323.4 942.0h0M1026.2 1238.3h0M976.1 1288.8h0M949.3 1315.3h0M1276.0 986.8h0M1448.8 816.9h0M1439.2 827.7h0M1081.2 1182.5h0M983.2 1281.8h0M1012.1 1252.1h0M1197.6 1066.3h0M1046.7 1217.5h0M1413.4 852.6h0M992.0 1272.2h0M1323.2 939.8h0M951.7 1313.5h0M1260.7 1004.2h0M1081.4 1180.8h0M1112.6 1153.0h0M1348.3 916.0h0M1357.3 905.3h0M1292.7 974.5h0M1227.8 1036.8h0M1348.1 917.3h0M997.4 1269.1h0M1197.9 1070.9h0M1264.9 1004.9h0"/>
<path d="M917.00 1347.68L1451.00 815.32" stroke="#7a7a7a" stroke-width="1.0" stroke-dasharray="3.85 1.66" fill="none"/>
</g>
<rect x="917" y="814" width="534" height="535" fill="none" stroke="#cccccc" stroke-width="4.1667"/>
<rect x="935.50" y="833.50" width="202.00" height="65.00" rx="7.33" ry="7.33" fill="#ffffff" fill-opacity="0.8" stroke="#cccccc" stroke-opacity="0.8" stroke-width="3.333"/>
<circle cx="986.50" cy="866.50" r="2.1" fill="#ff8a60" stroke="#ff4500" stroke-width="0.9"/>
<g font-family="Liberation Sans, sans-serif" fill="#262626">
<text x="1053.03" y="875.80" font-size="38.50" textLength="69.42" lengthAdjust="spacingAndGlyphs">test</text>
<text x="976.52" y="1401.70" font-size="26.25" textLength="59.20" lengthAdjust="spacingAndGlyphs">−6.8</text>
<text x="1073.82" y="1401.70" font-size="26.25" textLength="59.33" lengthAdjust="spacingAndGlyphs">−6.6</text>
<text x="1171.13" y="1401.70" font-size="26.25" textLength="59.06" lengthAdjust="spacingAndGlyphs">−6.4</text>
<text x="1268.44" y="1401.70" font-size="26.25" textLength="58.58" lengthAdjust="spacingAndGlyphs">−6.2</text>
<text x="1365.72" y="1401.70" font-size="26.25" textLength="59.11" lengthAdjust="spacingAndGlyphs">−6.0</text>
<text x="822.84" y="1269.50" font-size="26.25" textLength="59.20" lengthAdjust="spacingAndGlyphs">−6.8</text>
<text x="822.84" y="1172.50" font-size="26.25" textLength="59.33" lengthAdjust="spacingAndGlyphs">−6.6</text>
<text x="822.84" y="1075.50" font-size="26.25" textLength="59.06" lengthAdjust="spacingAndGlyphs">−6.4</text>
<text x="822.85" y="978.50" font-size="26.25" textLength="58.58" lengthAdjust="spacingAndGlyphs">−6.2</text>
<text x="822.84" y="881.50" font-size="26.25" textLength="59.11" lengthAdjust="spacingAndGlyphs">−6.0</text>
<text x="999.76" y="1450.25" font-size="35.00" textLength="368.10" lengthAdjust="spacingAndGlyphs">DFT energy (eV/atom)</text>
<text x="612.01" y="1083.30" font-size="35.00" textLength="370.91" lengthAdjust="spacingAndGlyphs" transform="rotate(-90 797.65 1083.30)">MLP energy (eV/atom)</text>
</g>
</svg></body></html>
